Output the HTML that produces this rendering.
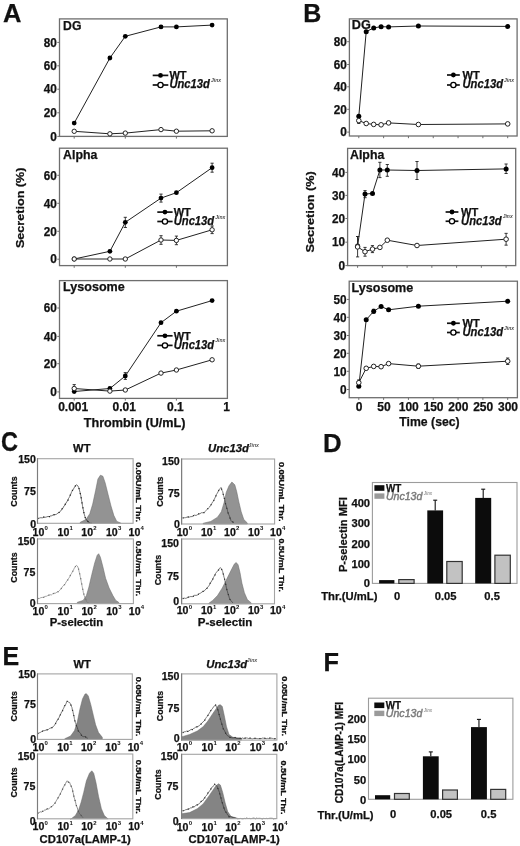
<!DOCTYPE html>
<html><head><meta charset="utf-8"><style>
html,body{margin:0;padding:0;background:#fff;}
svg{display:block;will-change:transform;}
text{font-family:"Liberation Sans",sans-serif;}
</style></head><body>
<svg xmlns="http://www.w3.org/2000/svg" width="520" height="846" viewBox="0 0 520 846">
<rect width="520" height="846" fill="#fff"/>
<text x="3.0" y="21.9" font-size="25.5" font-weight="bold" fill="#111" stroke="#111" stroke-width="0.25">A</text>
<rect x="59.5" y="18.9" width="167.8" height="117.5" fill="none" stroke="#6e6e6e" stroke-width="1.3"/>
<line x1="74.2" y1="136.4" x2="74.2" y2="138.6" stroke="#6e6e6e" stroke-width="1"/>
<line x1="125.30000000000001" y1="136.4" x2="125.30000000000001" y2="138.6" stroke="#6e6e6e" stroke-width="1"/>
<line x1="176.4" y1="136.4" x2="176.4" y2="138.6" stroke="#6e6e6e" stroke-width="1"/>
<text x="56.9" y="140.6" font-size="12" font-weight="bold" text-anchor="end" textLength="6.6" lengthAdjust="spacingAndGlyphs" fill="#111" stroke="#111" stroke-width="0.25">0</text>
<line x1="57.3" y1="136.4" x2="59.5" y2="136.4" stroke="#6e6e6e" stroke-width="1"/>
<text x="56.9" y="117.0" font-size="12" font-weight="bold" text-anchor="end" textLength="13.1" lengthAdjust="spacingAndGlyphs" fill="#111" stroke="#111" stroke-width="0.25">20</text>
<line x1="57.3" y1="112.8" x2="59.5" y2="112.8" stroke="#6e6e6e" stroke-width="1"/>
<text x="56.9" y="93.4" font-size="12" font-weight="bold" text-anchor="end" textLength="13.1" lengthAdjust="spacingAndGlyphs" fill="#111" stroke="#111" stroke-width="0.25">40</text>
<line x1="57.3" y1="89.2" x2="59.5" y2="89.2" stroke="#6e6e6e" stroke-width="1"/>
<text x="56.9" y="70.0" font-size="12" font-weight="bold" text-anchor="end" textLength="13.1" lengthAdjust="spacingAndGlyphs" fill="#111" stroke="#111" stroke-width="0.25">60</text>
<line x1="57.3" y1="65.8" x2="59.5" y2="65.8" stroke="#6e6e6e" stroke-width="1"/>
<text x="56.9" y="46.6" font-size="12" font-weight="bold" text-anchor="end" textLength="13.1" lengthAdjust="spacingAndGlyphs" fill="#111" stroke="#111" stroke-width="0.25">80</text>
<line x1="57.3" y1="42.4" x2="59.5" y2="42.4" stroke="#6e6e6e" stroke-width="1"/>
<text x="63.1" y="29.5" font-size="12.4" font-weight="bold" textLength="18.3" lengthAdjust="spacingAndGlyphs" fill="#111" stroke="#111" stroke-width="0.25">DG</text>
<polyline points="74.2,123.1 109.9,58.0 125.3,36.3 161.0,26.9 176.4,26.9 212.1,25.1" fill="none" stroke="#222" stroke-width="1"/>
<circle cx="74.2" cy="123.1" r="2.4" fill="#000"/>
<circle cx="109.9" cy="58.0" r="2.4" fill="#000"/>
<circle cx="125.3" cy="36.3" r="2.4" fill="#000"/>
<circle cx="161.0" cy="26.9" r="2.4" fill="#000"/>
<circle cx="176.4" cy="26.9" r="2.4" fill="#000"/>
<circle cx="212.1" cy="25.1" r="2.4" fill="#000"/>
<polyline points="74.2,131.3 109.9,133.8 125.3,133.1 161.0,129.6 176.4,131.2 212.1,130.8" fill="none" stroke="#222" stroke-width="1"/>
<circle cx="74.2" cy="131.3" r="2.1999999999999997" fill="#fff" stroke="#222" stroke-width="1"/>
<circle cx="109.9" cy="133.8" r="2.1999999999999997" fill="#fff" stroke="#222" stroke-width="1"/>
<circle cx="125.3" cy="133.1" r="2.1999999999999997" fill="#fff" stroke="#222" stroke-width="1"/>
<circle cx="161.0" cy="129.6" r="2.1999999999999997" fill="#fff" stroke="#222" stroke-width="1"/>
<circle cx="176.4" cy="131.2" r="2.1999999999999997" fill="#fff" stroke="#222" stroke-width="1"/>
<circle cx="212.1" cy="130.8" r="2.1999999999999997" fill="#fff" stroke="#222" stroke-width="1"/>
<line x1="152.7" y1="75.4" x2="168.3" y2="75.4" stroke="#111" stroke-width="1.7"/>
<circle cx="160.5" cy="75.4" r="2.4" fill="#000"/>
<text x="169.4" y="79.10000000000001" font-size="11.0" font-weight="bold" textLength="17.2" lengthAdjust="spacingAndGlyphs" fill="#111" stroke="#111" stroke-width="0.25">WT</text>
<line x1="152.7" y1="85.0" x2="168.3" y2="85.0" stroke="#111" stroke-width="1.7"/>
<circle cx="160.5" cy="85.0" r="2.6" fill="#fff" stroke="#000" stroke-width="1.3"/>
<text x="169.4" y="88.4" font-size="12.2" font-weight="bold" font-style="italic" textLength="40.5" lengthAdjust="spacingAndGlyphs" fill="#111" stroke="#111" stroke-width="0.25">Unc13d</text>
<text x="211.0" y="82.0" font-size="5.8" font-weight="bold" font-style="italic" textLength="10" lengthAdjust="spacingAndGlyphs" fill="#4a4a4a">Jinx</text>
<rect x="59.5" y="148.2" width="167.9" height="117.40000000000003" fill="none" stroke="#6e6e6e" stroke-width="1.3"/>
<line x1="74.2" y1="265.6" x2="74.2" y2="267.8" stroke="#6e6e6e" stroke-width="1"/>
<line x1="125.30000000000001" y1="265.6" x2="125.30000000000001" y2="267.8" stroke="#6e6e6e" stroke-width="1"/>
<line x1="176.4" y1="265.6" x2="176.4" y2="267.8" stroke="#6e6e6e" stroke-width="1"/>
<text x="56.9" y="263.4" font-size="12" font-weight="bold" text-anchor="end" textLength="6.6" lengthAdjust="spacingAndGlyphs" fill="#111" stroke="#111" stroke-width="0.25">0</text>
<line x1="57.3" y1="259.2" x2="59.5" y2="259.2" stroke="#6e6e6e" stroke-width="1"/>
<text x="56.9" y="235.5" font-size="12" font-weight="bold" text-anchor="end" textLength="13.1" lengthAdjust="spacingAndGlyphs" fill="#111" stroke="#111" stroke-width="0.25">20</text>
<line x1="57.3" y1="231.3" x2="59.5" y2="231.3" stroke="#6e6e6e" stroke-width="1"/>
<text x="56.9" y="207.5" font-size="12" font-weight="bold" text-anchor="end" textLength="13.1" lengthAdjust="spacingAndGlyphs" fill="#111" stroke="#111" stroke-width="0.25">40</text>
<line x1="57.3" y1="203.3" x2="59.5" y2="203.3" stroke="#6e6e6e" stroke-width="1"/>
<text x="56.9" y="179.5" font-size="12" font-weight="bold" text-anchor="end" textLength="13.1" lengthAdjust="spacingAndGlyphs" fill="#111" stroke="#111" stroke-width="0.25">60</text>
<line x1="57.3" y1="175.3" x2="59.5" y2="175.3" stroke="#6e6e6e" stroke-width="1"/>
<text x="63.1" y="158.79999999999998" font-size="12.4" font-weight="bold" textLength="34.3" lengthAdjust="spacingAndGlyphs" fill="#111" stroke="#111" stroke-width="0.25">Alpha</text>
<polyline points="74.2,259.0 109.9,251.3 125.3,222.3 161.0,198.1 176.4,192.7 212.1,167.7" fill="none" stroke="#222" stroke-width="1"/>
<line x1="125.30000000000001" y1="217.3" x2="125.30000000000001" y2="227.5" stroke="#222" stroke-width="0.9"/>
<line x1="123.70000000000002" y1="217.3" x2="126.9" y2="217.3" stroke="#222" stroke-width="0.9"/>
<line x1="123.70000000000002" y1="227.5" x2="126.9" y2="227.5" stroke="#222" stroke-width="0.9"/>
<line x1="161.01736722157057" y1="194.1" x2="161.01736722157057" y2="202.1" stroke="#222" stroke-width="0.9"/>
<line x1="159.41736722157057" y1="194.1" x2="162.61736722157056" y2="194.1" stroke="#222" stroke-width="0.9"/>
<line x1="159.41736722157057" y1="202.1" x2="162.61736722157056" y2="202.1" stroke="#222" stroke-width="0.9"/>
<line x1="212.1173672215706" y1="163.2" x2="212.1173672215706" y2="172.2" stroke="#222" stroke-width="0.9"/>
<line x1="210.5173672215706" y1="163.2" x2="213.71736722157058" y2="163.2" stroke="#222" stroke-width="0.9"/>
<line x1="210.5173672215706" y1="172.2" x2="213.71736722157058" y2="172.2" stroke="#222" stroke-width="0.9"/>
<circle cx="74.2" cy="259.0" r="2.4" fill="#000"/>
<circle cx="109.9" cy="251.3" r="2.4" fill="#000"/>
<circle cx="125.3" cy="222.3" r="2.4" fill="#000"/>
<circle cx="161.0" cy="198.1" r="2.4" fill="#000"/>
<circle cx="176.4" cy="192.7" r="2.4" fill="#000"/>
<circle cx="212.1" cy="167.7" r="2.4" fill="#000"/>
<polyline points="74.2,259.0 109.9,259.0 125.3,259.0 161.0,240.0 176.4,240.4 212.1,229.8" fill="none" stroke="#222" stroke-width="1"/>
<line x1="161.01736722157057" y1="235.7" x2="161.01736722157057" y2="244.3" stroke="#222" stroke-width="0.9"/>
<line x1="159.41736722157057" y1="235.7" x2="162.61736722157056" y2="235.7" stroke="#222" stroke-width="0.9"/>
<line x1="159.41736722157057" y1="244.3" x2="162.61736722157056" y2="244.3" stroke="#222" stroke-width="0.9"/>
<line x1="176.4" y1="236.1" x2="176.4" y2="244.70000000000002" stroke="#222" stroke-width="0.9"/>
<line x1="174.8" y1="236.1" x2="178.0" y2="236.1" stroke="#222" stroke-width="0.9"/>
<line x1="174.8" y1="244.70000000000002" x2="178.0" y2="244.70000000000002" stroke="#222" stroke-width="0.9"/>
<line x1="212.1173672215706" y1="226.0" x2="212.1173672215706" y2="233.60000000000002" stroke="#222" stroke-width="0.9"/>
<line x1="210.5173672215706" y1="226.0" x2="213.71736722157058" y2="226.0" stroke="#222" stroke-width="0.9"/>
<line x1="210.5173672215706" y1="233.60000000000002" x2="213.71736722157058" y2="233.60000000000002" stroke="#222" stroke-width="0.9"/>
<circle cx="74.2" cy="259.0" r="2.1999999999999997" fill="#fff" stroke="#222" stroke-width="1"/>
<circle cx="109.9" cy="259.0" r="2.1999999999999997" fill="#fff" stroke="#222" stroke-width="1"/>
<circle cx="125.3" cy="259.0" r="2.1999999999999997" fill="#fff" stroke="#222" stroke-width="1"/>
<circle cx="161.0" cy="240.0" r="2.1999999999999997" fill="#fff" stroke="#222" stroke-width="1"/>
<circle cx="176.4" cy="240.4" r="2.1999999999999997" fill="#fff" stroke="#222" stroke-width="1"/>
<circle cx="212.1" cy="229.8" r="2.1999999999999997" fill="#fff" stroke="#222" stroke-width="1"/>
<line x1="157.3" y1="212.1" x2="172.60000000000002" y2="212.1" stroke="#111" stroke-width="1.7"/>
<circle cx="164.95000000000002" cy="212.1" r="2.4" fill="#000"/>
<text x="173.7" y="215.79999999999998" font-size="11.0" font-weight="bold" textLength="17.2" lengthAdjust="spacingAndGlyphs" fill="#111" stroke="#111" stroke-width="0.25">WT</text>
<line x1="157.3" y1="221.5" x2="172.60000000000002" y2="221.5" stroke="#111" stroke-width="1.7"/>
<circle cx="164.95000000000002" cy="221.5" r="2.6" fill="#fff" stroke="#000" stroke-width="1.3"/>
<text x="173.7" y="224.9" font-size="12.2" font-weight="bold" font-style="italic" textLength="40.5" lengthAdjust="spacingAndGlyphs" fill="#111" stroke="#111" stroke-width="0.25">Unc13d</text>
<text x="215.29999999999998" y="218.5" font-size="5.8" font-weight="bold" font-style="italic" textLength="10" lengthAdjust="spacingAndGlyphs" fill="#4a4a4a">Jinx</text>
<rect x="59.5" y="280.6" width="167.9" height="117.79999999999995" fill="none" stroke="#6e6e6e" stroke-width="1.3"/>
<line x1="74.2" y1="398.4" x2="74.2" y2="400.59999999999997" stroke="#6e6e6e" stroke-width="1"/>
<line x1="125.30000000000001" y1="398.4" x2="125.30000000000001" y2="400.59999999999997" stroke="#6e6e6e" stroke-width="1"/>
<line x1="176.4" y1="398.4" x2="176.4" y2="400.59999999999997" stroke="#6e6e6e" stroke-width="1"/>
<text x="56.9" y="396.09999999999997" font-size="12" font-weight="bold" text-anchor="end" textLength="6.6" lengthAdjust="spacingAndGlyphs" fill="#111" stroke="#111" stroke-width="0.25">0</text>
<line x1="57.3" y1="391.9" x2="59.5" y2="391.9" stroke="#6e6e6e" stroke-width="1"/>
<text x="56.9" y="367.9" font-size="12" font-weight="bold" text-anchor="end" textLength="13.1" lengthAdjust="spacingAndGlyphs" fill="#111" stroke="#111" stroke-width="0.25">20</text>
<line x1="57.3" y1="363.7" x2="59.5" y2="363.7" stroke="#6e6e6e" stroke-width="1"/>
<text x="56.9" y="340.59999999999997" font-size="12" font-weight="bold" text-anchor="end" textLength="13.1" lengthAdjust="spacingAndGlyphs" fill="#111" stroke="#111" stroke-width="0.25">40</text>
<line x1="57.3" y1="336.4" x2="59.5" y2="336.4" stroke="#6e6e6e" stroke-width="1"/>
<text x="56.9" y="312.2" font-size="12" font-weight="bold" text-anchor="end" textLength="13.1" lengthAdjust="spacingAndGlyphs" fill="#111" stroke="#111" stroke-width="0.25">60</text>
<line x1="57.3" y1="308" x2="59.5" y2="308" stroke="#6e6e6e" stroke-width="1"/>
<text x="63.1" y="291.20000000000005" font-size="12.4" font-weight="bold" textLength="61.6" lengthAdjust="spacingAndGlyphs" fill="#111" stroke="#111" stroke-width="0.25">Lysosome</text>
<polyline points="74.2,391.5 109.9,388.5 125.3,376.0 161.0,322.7 176.4,311.2 212.1,300.6" fill="none" stroke="#222" stroke-width="1"/>
<line x1="125.30000000000001" y1="372.6" x2="125.30000000000001" y2="379.4" stroke="#222" stroke-width="0.9"/>
<line x1="123.70000000000002" y1="372.6" x2="126.9" y2="372.6" stroke="#222" stroke-width="0.9"/>
<line x1="123.70000000000002" y1="379.4" x2="126.9" y2="379.4" stroke="#222" stroke-width="0.9"/>
<circle cx="74.2" cy="391.5" r="2.4" fill="#000"/>
<circle cx="109.9" cy="388.5" r="2.4" fill="#000"/>
<circle cx="125.3" cy="376.0" r="2.4" fill="#000"/>
<circle cx="161.0" cy="322.7" r="2.4" fill="#000"/>
<circle cx="176.4" cy="311.2" r="2.4" fill="#000"/>
<circle cx="212.1" cy="300.6" r="2.4" fill="#000"/>
<polyline points="74.2,388.5 109.9,391.1 125.3,390.0 161.0,373.1 176.4,370.0 212.1,359.8" fill="none" stroke="#222" stroke-width="1"/>
<line x1="74.2" y1="384.6" x2="74.2" y2="390" stroke="#222" stroke-width="0.9"/>
<line x1="72.60000000000001" y1="384.6" x2="75.8" y2="384.6" stroke="#222" stroke-width="0.9"/>
<line x1="72.60000000000001" y1="390" x2="75.8" y2="390" stroke="#222" stroke-width="0.9"/>
<circle cx="74.2" cy="388.5" r="2.1999999999999997" fill="#fff" stroke="#222" stroke-width="1"/>
<circle cx="109.9" cy="391.1" r="2.1999999999999997" fill="#fff" stroke="#222" stroke-width="1"/>
<circle cx="125.3" cy="390.0" r="2.1999999999999997" fill="#fff" stroke="#222" stroke-width="1"/>
<circle cx="161.0" cy="373.1" r="2.1999999999999997" fill="#fff" stroke="#222" stroke-width="1"/>
<circle cx="176.4" cy="370.0" r="2.1999999999999997" fill="#fff" stroke="#222" stroke-width="1"/>
<circle cx="212.1" cy="359.8" r="2.1999999999999997" fill="#fff" stroke="#222" stroke-width="1"/>
<line x1="157.3" y1="335.8" x2="172.60000000000002" y2="335.8" stroke="#111" stroke-width="1.7"/>
<circle cx="164.95000000000002" cy="335.8" r="2.4" fill="#000"/>
<text x="173.7" y="339.5" font-size="11.0" font-weight="bold" textLength="17.2" lengthAdjust="spacingAndGlyphs" fill="#111" stroke="#111" stroke-width="0.25">WT</text>
<line x1="157.3" y1="345.4" x2="172.60000000000002" y2="345.4" stroke="#111" stroke-width="1.7"/>
<circle cx="164.95000000000002" cy="345.4" r="2.6" fill="#fff" stroke="#000" stroke-width="1.3"/>
<text x="173.7" y="348.79999999999995" font-size="12.2" font-weight="bold" font-style="italic" textLength="40.5" lengthAdjust="spacingAndGlyphs" fill="#111" stroke="#111" stroke-width="0.25">Unc13d</text>
<text x="215.29999999999998" y="342.4" font-size="5.8" font-weight="bold" font-style="italic" textLength="10" lengthAdjust="spacingAndGlyphs" fill="#4a4a4a">Jinx</text>
<text x="73.2" y="411.0" font-size="12" font-weight="bold" text-anchor="middle" fill="#111" stroke="#111" stroke-width="0.25">0.001</text>
<text x="124.30000000000001" y="411.0" font-size="12" font-weight="bold" text-anchor="middle" fill="#111" stroke="#111" stroke-width="0.25">0.01</text>
<text x="175.4" y="411.0" font-size="12" font-weight="bold" text-anchor="middle" fill="#111" stroke="#111" stroke-width="0.25">0.1</text>
<text x="226.5" y="411.0" font-size="12" font-weight="bold" text-anchor="middle" fill="#111" stroke="#111" stroke-width="0.25">1</text>
<text x="134.6" y="426.5" font-size="12.4" font-weight="bold" text-anchor="middle" textLength="101.6" lengthAdjust="spacingAndGlyphs" fill="#111" stroke="#111" stroke-width="0.25">Thrombin (U/mL)</text>
<text x="23.9" y="207.8" font-size="11.6" font-weight="bold" text-anchor="middle" textLength="80.5" lengthAdjust="spacingAndGlyphs" transform="rotate(-90 23.9 207.8)" fill="#111" stroke="#111" stroke-width="0.25">Secretion (%)</text>
<text x="303.3" y="22" font-size="25" font-weight="bold" fill="#111" stroke="#111" stroke-width="0.25">B</text>
<rect x="349.4" y="18.9" width="167.70000000000005" height="117.1" fill="none" stroke="#6e6e6e" stroke-width="1.3"/>
<line x1="358.8" y1="136.0" x2="358.8" y2="138.2" stroke="#6e6e6e" stroke-width="1"/>
<line x1="383.615" y1="136.0" x2="383.615" y2="138.2" stroke="#6e6e6e" stroke-width="1"/>
<line x1="408.43" y1="136.0" x2="408.43" y2="138.2" stroke="#6e6e6e" stroke-width="1"/>
<line x1="433.245" y1="136.0" x2="433.245" y2="138.2" stroke="#6e6e6e" stroke-width="1"/>
<line x1="458.06" y1="136.0" x2="458.06" y2="138.2" stroke="#6e6e6e" stroke-width="1"/>
<line x1="482.875" y1="136.0" x2="482.875" y2="138.2" stroke="#6e6e6e" stroke-width="1"/>
<line x1="507.69000000000005" y1="136.0" x2="507.69000000000005" y2="138.2" stroke="#6e6e6e" stroke-width="1"/>
<text x="346.79999999999995" y="136.29999999999998" font-size="12" font-weight="bold" text-anchor="end" textLength="6.6" lengthAdjust="spacingAndGlyphs" fill="#111" stroke="#111" stroke-width="0.25">0</text>
<line x1="347.2" y1="132.1" x2="349.4" y2="132.1" stroke="#6e6e6e" stroke-width="1"/>
<text x="346.79999999999995" y="113.5" font-size="12" font-weight="bold" text-anchor="end" textLength="13.1" lengthAdjust="spacingAndGlyphs" fill="#111" stroke="#111" stroke-width="0.25">20</text>
<line x1="347.2" y1="109.3" x2="349.4" y2="109.3" stroke="#6e6e6e" stroke-width="1"/>
<text x="346.79999999999995" y="91.0" font-size="12" font-weight="bold" text-anchor="end" textLength="13.1" lengthAdjust="spacingAndGlyphs" fill="#111" stroke="#111" stroke-width="0.25">40</text>
<line x1="347.2" y1="86.8" x2="349.4" y2="86.8" stroke="#6e6e6e" stroke-width="1"/>
<text x="346.79999999999995" y="68.7" font-size="12" font-weight="bold" text-anchor="end" textLength="13.1" lengthAdjust="spacingAndGlyphs" fill="#111" stroke="#111" stroke-width="0.25">60</text>
<line x1="347.2" y1="64.5" x2="349.4" y2="64.5" stroke="#6e6e6e" stroke-width="1"/>
<text x="346.79999999999995" y="45.900000000000006" font-size="12" font-weight="bold" text-anchor="end" textLength="13.1" lengthAdjust="spacingAndGlyphs" fill="#111" stroke="#111" stroke-width="0.25">80</text>
<line x1="347.2" y1="41.7" x2="349.4" y2="41.7" stroke="#6e6e6e" stroke-width="1"/>
<text x="351.79999999999995" y="29.2" font-size="12.4" font-weight="bold" textLength="19.0" lengthAdjust="spacingAndGlyphs" fill="#111" stroke="#111" stroke-width="0.25">DG</text>
<polyline points="358.8,116.3 366.2,31.7 373.7,27.9 381.1,26.7 388.6,26.9 418.4,26.0 507.7,26.4" fill="none" stroke="#222" stroke-width="1"/>
<circle cx="358.8" cy="116.3" r="2.5" fill="#000"/>
<circle cx="366.2" cy="31.7" r="2.5" fill="#000"/>
<circle cx="373.7" cy="27.9" r="2.5" fill="#000"/>
<circle cx="381.1" cy="26.7" r="2.5" fill="#000"/>
<circle cx="388.6" cy="26.9" r="2.5" fill="#000"/>
<circle cx="418.4" cy="26.0" r="2.5" fill="#000"/>
<circle cx="507.7" cy="26.4" r="2.5" fill="#000"/>
<polyline points="358.8,120.6 366.2,123.5 373.7,124.4 381.1,124.8 388.6,122.9 418.4,124.5 507.7,123.9" fill="none" stroke="#222" stroke-width="1"/>
<line x1="358.8" y1="120.6" x2="358.8" y2="123.5" stroke="#222" stroke-width="0.9"/>
<line x1="357.2" y1="120.6" x2="360.40000000000003" y2="120.6" stroke="#222" stroke-width="0.9"/>
<line x1="357.2" y1="123.5" x2="360.40000000000003" y2="123.5" stroke="#222" stroke-width="0.9"/>
<circle cx="358.8" cy="120.6" r="2.3" fill="#fff" stroke="#222" stroke-width="1"/>
<circle cx="366.2" cy="123.5" r="2.3" fill="#fff" stroke="#222" stroke-width="1"/>
<circle cx="373.7" cy="124.4" r="2.3" fill="#fff" stroke="#222" stroke-width="1"/>
<circle cx="381.1" cy="124.8" r="2.3" fill="#fff" stroke="#222" stroke-width="1"/>
<circle cx="388.6" cy="122.9" r="2.3" fill="#fff" stroke="#222" stroke-width="1"/>
<circle cx="418.4" cy="124.5" r="2.3" fill="#fff" stroke="#222" stroke-width="1"/>
<circle cx="507.7" cy="123.9" r="2.3" fill="#fff" stroke="#222" stroke-width="1"/>
<line x1="447" y1="75" x2="459.8" y2="75" stroke="#111" stroke-width="1.7"/>
<circle cx="453.4" cy="75" r="2.4" fill="#000"/>
<text x="462.5" y="78.7" font-size="11.0" font-weight="bold" textLength="17.2" lengthAdjust="spacingAndGlyphs" fill="#111" stroke="#111" stroke-width="0.25">WT</text>
<line x1="447" y1="85" x2="459.8" y2="85" stroke="#111" stroke-width="1.7"/>
<circle cx="453.4" cy="85" r="2.6" fill="#fff" stroke="#000" stroke-width="1.3"/>
<text x="462.5" y="88.4" font-size="12.2" font-weight="bold" font-style="italic" textLength="40.5" lengthAdjust="spacingAndGlyphs" fill="#111" stroke="#111" stroke-width="0.25">Unc13d</text>
<text x="504.1" y="82.0" font-size="5.8" font-weight="bold" font-style="italic" textLength="10" lengthAdjust="spacingAndGlyphs" fill="#4a4a4a">Jinx</text>
<rect x="347.6" y="148.4" width="168.10000000000002" height="117.20000000000002" fill="none" stroke="#6e6e6e" stroke-width="1.3"/>
<line x1="357.6" y1="265.6" x2="357.6" y2="267.8" stroke="#6e6e6e" stroke-width="1"/>
<line x1="382.35" y1="265.6" x2="382.35" y2="267.8" stroke="#6e6e6e" stroke-width="1"/>
<line x1="407.1" y1="265.6" x2="407.1" y2="267.8" stroke="#6e6e6e" stroke-width="1"/>
<line x1="431.85" y1="265.6" x2="431.85" y2="267.8" stroke="#6e6e6e" stroke-width="1"/>
<line x1="456.6" y1="265.6" x2="456.6" y2="267.8" stroke="#6e6e6e" stroke-width="1"/>
<line x1="481.35" y1="265.6" x2="481.35" y2="267.8" stroke="#6e6e6e" stroke-width="1"/>
<line x1="506.1" y1="265.6" x2="506.1" y2="267.8" stroke="#6e6e6e" stroke-width="1"/>
<text x="345.0" y="269.8" font-size="12" font-weight="bold" text-anchor="end" textLength="6.6" lengthAdjust="spacingAndGlyphs" fill="#111" stroke="#111" stroke-width="0.25">0</text>
<line x1="345.40000000000003" y1="265.6" x2="347.6" y2="265.6" stroke="#6e6e6e" stroke-width="1"/>
<text x="345.0" y="246.39999999999998" font-size="12" font-weight="bold" text-anchor="end" textLength="13.1" lengthAdjust="spacingAndGlyphs" fill="#111" stroke="#111" stroke-width="0.25">10</text>
<line x1="345.40000000000003" y1="242.2" x2="347.6" y2="242.2" stroke="#6e6e6e" stroke-width="1"/>
<text x="345.0" y="222.7" font-size="12" font-weight="bold" text-anchor="end" textLength="13.1" lengthAdjust="spacingAndGlyphs" fill="#111" stroke="#111" stroke-width="0.25">20</text>
<line x1="345.40000000000003" y1="218.5" x2="347.6" y2="218.5" stroke="#6e6e6e" stroke-width="1"/>
<text x="345.0" y="199.6" font-size="12" font-weight="bold" text-anchor="end" textLength="13.1" lengthAdjust="spacingAndGlyphs" fill="#111" stroke="#111" stroke-width="0.25">30</text>
<line x1="345.40000000000003" y1="195.4" x2="347.6" y2="195.4" stroke="#6e6e6e" stroke-width="1"/>
<text x="345.0" y="176.6" font-size="12" font-weight="bold" text-anchor="end" textLength="13.1" lengthAdjust="spacingAndGlyphs" fill="#111" stroke="#111" stroke-width="0.25">40</text>
<line x1="345.40000000000003" y1="172.4" x2="347.6" y2="172.4" stroke="#6e6e6e" stroke-width="1"/>
<text x="350.0" y="158.70000000000002" font-size="12.4" font-weight="bold" textLength="34.3" lengthAdjust="spacingAndGlyphs" fill="#111" stroke="#111" stroke-width="0.25">Alpha</text>
<polyline points="357.6,246.0 365.0,194.1 372.5,193.4 379.9,170.0 387.3,170.0 417.0,170.5 506.1,168.9" fill="none" stroke="#222" stroke-width="1"/>
<line x1="357.6" y1="236.5" x2="357.6" y2="246" stroke="#222" stroke-width="0.9"/>
<line x1="356.0" y1="236.5" x2="359.20000000000005" y2="236.5" stroke="#222" stroke-width="0.9"/>
<line x1="356.0" y1="246" x2="359.20000000000005" y2="246" stroke="#222" stroke-width="0.9"/>
<line x1="365.02500000000003" y1="190.6" x2="365.02500000000003" y2="197.7" stroke="#222" stroke-width="0.9"/>
<line x1="363.425" y1="190.6" x2="366.62500000000006" y2="190.6" stroke="#222" stroke-width="0.9"/>
<line x1="363.425" y1="197.7" x2="366.62500000000006" y2="197.7" stroke="#222" stroke-width="0.9"/>
<line x1="379.875" y1="162.3" x2="379.875" y2="177.6" stroke="#222" stroke-width="0.9"/>
<line x1="378.275" y1="162.3" x2="381.475" y2="162.3" stroke="#222" stroke-width="0.9"/>
<line x1="378.275" y1="177.6" x2="381.475" y2="177.6" stroke="#222" stroke-width="0.9"/>
<line x1="387.3" y1="164.5" x2="387.3" y2="176.3" stroke="#222" stroke-width="0.9"/>
<line x1="385.7" y1="164.5" x2="388.90000000000003" y2="164.5" stroke="#222" stroke-width="0.9"/>
<line x1="385.7" y1="176.3" x2="388.90000000000003" y2="176.3" stroke="#222" stroke-width="0.9"/>
<line x1="417.0" y1="161.5" x2="417.0" y2="179.5" stroke="#222" stroke-width="0.9"/>
<line x1="415.4" y1="161.5" x2="418.6" y2="161.5" stroke="#222" stroke-width="0.9"/>
<line x1="415.4" y1="179.5" x2="418.6" y2="179.5" stroke="#222" stroke-width="0.9"/>
<line x1="506.1" y1="164" x2="506.1" y2="173.5" stroke="#222" stroke-width="0.9"/>
<line x1="504.5" y1="164" x2="507.70000000000005" y2="164" stroke="#222" stroke-width="0.9"/>
<line x1="504.5" y1="173.5" x2="507.70000000000005" y2="173.5" stroke="#222" stroke-width="0.9"/>
<circle cx="357.6" cy="246.0" r="2.5" fill="#000"/>
<circle cx="365.0" cy="194.1" r="2.5" fill="#000"/>
<circle cx="372.5" cy="193.4" r="2.5" fill="#000"/>
<circle cx="379.9" cy="170.0" r="2.5" fill="#000"/>
<circle cx="387.3" cy="170.0" r="2.5" fill="#000"/>
<circle cx="417.0" cy="170.5" r="2.5" fill="#000"/>
<circle cx="506.1" cy="168.9" r="2.5" fill="#000"/>
<polyline points="357.6,246.9 365.0,251.7 372.5,249.1 379.9,247.4 387.3,240.2 417.0,245.5 506.1,239.2" fill="none" stroke="#222" stroke-width="1"/>
<line x1="357.6" y1="236.5" x2="357.6" y2="256.9" stroke="#222" stroke-width="0.9"/>
<line x1="356.0" y1="236.5" x2="359.20000000000005" y2="236.5" stroke="#222" stroke-width="0.9"/>
<line x1="356.0" y1="256.9" x2="359.20000000000005" y2="256.9" stroke="#222" stroke-width="0.9"/>
<line x1="365.02500000000003" y1="247.4" x2="365.02500000000003" y2="256.2" stroke="#222" stroke-width="0.9"/>
<line x1="363.425" y1="247.4" x2="366.62500000000006" y2="247.4" stroke="#222" stroke-width="0.9"/>
<line x1="363.425" y1="256.2" x2="366.62500000000006" y2="256.2" stroke="#222" stroke-width="0.9"/>
<line x1="372.45000000000005" y1="245.6" x2="372.45000000000005" y2="252.6" stroke="#222" stroke-width="0.9"/>
<line x1="370.85" y1="245.6" x2="374.05000000000007" y2="245.6" stroke="#222" stroke-width="0.9"/>
<line x1="370.85" y1="252.6" x2="374.05000000000007" y2="252.6" stroke="#222" stroke-width="0.9"/>
<line x1="506.1" y1="233.35" x2="506.1" y2="245.15" stroke="#222" stroke-width="0.9"/>
<line x1="504.5" y1="233.35" x2="507.70000000000005" y2="233.35" stroke="#222" stroke-width="0.9"/>
<line x1="504.5" y1="245.15" x2="507.70000000000005" y2="245.15" stroke="#222" stroke-width="0.9"/>
<circle cx="357.6" cy="246.9" r="2.3" fill="#fff" stroke="#222" stroke-width="1"/>
<circle cx="365.0" cy="251.7" r="2.3" fill="#fff" stroke="#222" stroke-width="1"/>
<circle cx="372.5" cy="249.1" r="2.3" fill="#fff" stroke="#222" stroke-width="1"/>
<circle cx="379.9" cy="247.4" r="2.3" fill="#fff" stroke="#222" stroke-width="1"/>
<circle cx="387.3" cy="240.2" r="2.3" fill="#fff" stroke="#222" stroke-width="1"/>
<circle cx="417.0" cy="245.5" r="2.3" fill="#fff" stroke="#222" stroke-width="1"/>
<circle cx="506.1" cy="239.2" r="2.3" fill="#fff" stroke="#222" stroke-width="1"/>
<line x1="445.6" y1="212" x2="458.40000000000003" y2="212" stroke="#111" stroke-width="1.7"/>
<circle cx="452.0" cy="212" r="2.4" fill="#000"/>
<text x="461.1" y="215.7" font-size="11.0" font-weight="bold" textLength="17.2" lengthAdjust="spacingAndGlyphs" fill="#111" stroke="#111" stroke-width="0.25">WT</text>
<line x1="445.6" y1="221.25" x2="458.40000000000003" y2="221.25" stroke="#111" stroke-width="1.7"/>
<circle cx="452.0" cy="221.25" r="2.6" fill="#fff" stroke="#000" stroke-width="1.3"/>
<text x="461.1" y="224.65" font-size="12.2" font-weight="bold" font-style="italic" textLength="40.5" lengthAdjust="spacingAndGlyphs" fill="#111" stroke="#111" stroke-width="0.25">Unc13d</text>
<text x="502.70000000000005" y="218.25" font-size="5.8" font-weight="bold" font-style="italic" textLength="10" lengthAdjust="spacingAndGlyphs" fill="#4a4a4a">Jinx</text>
<rect x="349.2" y="281.2" width="168.2" height="116.5" fill="none" stroke="#6e6e6e" stroke-width="1.3"/>
<line x1="358.8" y1="397.7" x2="358.8" y2="399.9" stroke="#6e6e6e" stroke-width="1"/>
<line x1="383.615" y1="397.7" x2="383.615" y2="399.9" stroke="#6e6e6e" stroke-width="1"/>
<line x1="408.43" y1="397.7" x2="408.43" y2="399.9" stroke="#6e6e6e" stroke-width="1"/>
<line x1="433.245" y1="397.7" x2="433.245" y2="399.9" stroke="#6e6e6e" stroke-width="1"/>
<line x1="458.06" y1="397.7" x2="458.06" y2="399.9" stroke="#6e6e6e" stroke-width="1"/>
<line x1="482.875" y1="397.7" x2="482.875" y2="399.9" stroke="#6e6e6e" stroke-width="1"/>
<line x1="507.69000000000005" y1="397.7" x2="507.69000000000005" y2="399.9" stroke="#6e6e6e" stroke-width="1"/>
<text x="346.59999999999997" y="393.7" font-size="12" font-weight="bold" text-anchor="end" textLength="6.6" lengthAdjust="spacingAndGlyphs" fill="#111" stroke="#111" stroke-width="0.25">0</text>
<line x1="347.0" y1="389.5" x2="349.2" y2="389.5" stroke="#6e6e6e" stroke-width="1"/>
<text x="346.59999999999997" y="375.5" font-size="12" font-weight="bold" text-anchor="end" textLength="13.1" lengthAdjust="spacingAndGlyphs" fill="#111" stroke="#111" stroke-width="0.25">10</text>
<line x1="347.0" y1="371.3" x2="349.2" y2="371.3" stroke="#6e6e6e" stroke-width="1"/>
<text x="346.59999999999997" y="357.5" font-size="12" font-weight="bold" text-anchor="end" textLength="13.1" lengthAdjust="spacingAndGlyphs" fill="#111" stroke="#111" stroke-width="0.25">20</text>
<line x1="347.0" y1="353.3" x2="349.2" y2="353.3" stroke="#6e6e6e" stroke-width="1"/>
<text x="346.59999999999997" y="339.7" font-size="12" font-weight="bold" text-anchor="end" textLength="13.1" lengthAdjust="spacingAndGlyphs" fill="#111" stroke="#111" stroke-width="0.25">30</text>
<line x1="347.0" y1="335.5" x2="349.2" y2="335.5" stroke="#6e6e6e" stroke-width="1"/>
<text x="346.59999999999997" y="321.5" font-size="12" font-weight="bold" text-anchor="end" textLength="13.1" lengthAdjust="spacingAndGlyphs" fill="#111" stroke="#111" stroke-width="0.25">40</text>
<line x1="347.0" y1="317.3" x2="349.2" y2="317.3" stroke="#6e6e6e" stroke-width="1"/>
<text x="346.59999999999997" y="303.59999999999997" font-size="12" font-weight="bold" text-anchor="end" textLength="13.1" lengthAdjust="spacingAndGlyphs" fill="#111" stroke="#111" stroke-width="0.25">50</text>
<line x1="347.0" y1="299.4" x2="349.2" y2="299.4" stroke="#6e6e6e" stroke-width="1"/>
<text x="351.59999999999997" y="291.5" font-size="12.4" font-weight="bold" textLength="61.6" lengthAdjust="spacingAndGlyphs" fill="#111" stroke="#111" stroke-width="0.25">Lysosome</text>
<polyline points="358.8,386.3 366.2,319.8 373.7,311.3 381.1,306.5 388.6,309.8 418.4,306.2 507.7,301.2" fill="none" stroke="#222" stroke-width="1"/>
<line x1="373.689" y1="309.3" x2="373.689" y2="313.3" stroke="#222" stroke-width="0.9"/>
<line x1="372.089" y1="309.3" x2="375.28900000000004" y2="309.3" stroke="#222" stroke-width="0.9"/>
<line x1="372.089" y1="313.3" x2="375.28900000000004" y2="313.3" stroke="#222" stroke-width="0.9"/>
<circle cx="358.8" cy="386.3" r="2.5" fill="#000"/>
<circle cx="366.2" cy="319.8" r="2.5" fill="#000"/>
<circle cx="373.7" cy="311.3" r="2.5" fill="#000"/>
<circle cx="381.1" cy="306.5" r="2.5" fill="#000"/>
<circle cx="388.6" cy="309.8" r="2.5" fill="#000"/>
<circle cx="418.4" cy="306.2" r="2.5" fill="#000"/>
<circle cx="507.7" cy="301.2" r="2.5" fill="#000"/>
<polyline points="358.8,382.7 366.2,368.3 373.7,366.4 381.1,366.7 388.6,363.6 418.4,366.2 507.7,361.2" fill="none" stroke="#222" stroke-width="1"/>
<line x1="358.8" y1="379.9" x2="358.8" y2="382.7" stroke="#222" stroke-width="0.9"/>
<line x1="357.2" y1="379.9" x2="360.40000000000003" y2="379.9" stroke="#222" stroke-width="0.9"/>
<line x1="357.2" y1="382.7" x2="360.40000000000003" y2="382.7" stroke="#222" stroke-width="0.9"/>
<line x1="366.2445" y1="367.1" x2="366.2445" y2="369.5" stroke="#222" stroke-width="0.9"/>
<line x1="364.6445" y1="367.1" x2="367.84450000000004" y2="367.1" stroke="#222" stroke-width="0.9"/>
<line x1="364.6445" y1="369.5" x2="367.84450000000004" y2="369.5" stroke="#222" stroke-width="0.9"/>
<line x1="381.1335" y1="365.5" x2="381.1335" y2="367.9" stroke="#222" stroke-width="0.9"/>
<line x1="379.5335" y1="365.5" x2="382.73350000000005" y2="365.5" stroke="#222" stroke-width="0.9"/>
<line x1="379.5335" y1="367.9" x2="382.73350000000005" y2="367.9" stroke="#222" stroke-width="0.9"/>
<line x1="418.356" y1="364.05" x2="418.356" y2="368.45" stroke="#222" stroke-width="0.9"/>
<line x1="416.756" y1="364.05" x2="419.956" y2="364.05" stroke="#222" stroke-width="0.9"/>
<line x1="416.756" y1="368.45" x2="419.956" y2="368.45" stroke="#222" stroke-width="0.9"/>
<line x1="507.69000000000005" y1="358.0" x2="507.69000000000005" y2="364.5" stroke="#222" stroke-width="0.9"/>
<line x1="506.09000000000003" y1="358.0" x2="509.2900000000001" y2="358.0" stroke="#222" stroke-width="0.9"/>
<line x1="506.09000000000003" y1="364.5" x2="509.2900000000001" y2="364.5" stroke="#222" stroke-width="0.9"/>
<circle cx="358.8" cy="382.7" r="2.3" fill="#fff" stroke="#222" stroke-width="1"/>
<circle cx="366.2" cy="368.3" r="2.3" fill="#fff" stroke="#222" stroke-width="1"/>
<circle cx="373.7" cy="366.4" r="2.3" fill="#fff" stroke="#222" stroke-width="1"/>
<circle cx="381.1" cy="366.7" r="2.3" fill="#fff" stroke="#222" stroke-width="1"/>
<circle cx="388.6" cy="363.6" r="2.3" fill="#fff" stroke="#222" stroke-width="1"/>
<circle cx="418.4" cy="366.2" r="2.3" fill="#fff" stroke="#222" stroke-width="1"/>
<circle cx="507.7" cy="361.2" r="2.3" fill="#fff" stroke="#222" stroke-width="1"/>
<line x1="447" y1="323.25" x2="459.8" y2="323.25" stroke="#111" stroke-width="1.7"/>
<circle cx="453.4" cy="323.25" r="2.4" fill="#000"/>
<text x="462.5" y="326.95" font-size="11.0" font-weight="bold" textLength="17.2" lengthAdjust="spacingAndGlyphs" fill="#111" stroke="#111" stroke-width="0.25">WT</text>
<line x1="447" y1="332.5" x2="459.8" y2="332.5" stroke="#111" stroke-width="1.7"/>
<circle cx="453.4" cy="332.5" r="2.6" fill="#fff" stroke="#000" stroke-width="1.3"/>
<text x="462.5" y="335.9" font-size="12.2" font-weight="bold" font-style="italic" textLength="40.5" lengthAdjust="spacingAndGlyphs" fill="#111" stroke="#111" stroke-width="0.25">Unc13d</text>
<text x="504.1" y="329.5" font-size="5.8" font-weight="bold" font-style="italic" textLength="10" lengthAdjust="spacingAndGlyphs" fill="#4a4a4a">Jinx</text>
<text x="359.1" y="410.8" font-size="12" font-weight="bold" text-anchor="middle" fill="#111" stroke="#111" stroke-width="0.25">0</text>
<text x="383.915" y="410.8" font-size="12" font-weight="bold" text-anchor="middle" fill="#111" stroke="#111" stroke-width="0.25">50</text>
<text x="408.73" y="410.8" font-size="12" font-weight="bold" text-anchor="middle" fill="#111" stroke="#111" stroke-width="0.25">100</text>
<text x="433.545" y="410.8" font-size="12" font-weight="bold" text-anchor="middle" fill="#111" stroke="#111" stroke-width="0.25">150</text>
<text x="458.36" y="410.8" font-size="12" font-weight="bold" text-anchor="middle" fill="#111" stroke="#111" stroke-width="0.25">200</text>
<text x="483.175" y="410.8" font-size="12" font-weight="bold" text-anchor="middle" fill="#111" stroke="#111" stroke-width="0.25">250</text>
<text x="507.99000000000007" y="410.8" font-size="12" font-weight="bold" text-anchor="middle" fill="#111" stroke="#111" stroke-width="0.25">300</text>
<text x="429.5" y="426.3" font-size="12.4" font-weight="bold" text-anchor="middle" textLength="60.3" lengthAdjust="spacingAndGlyphs" fill="#111" stroke="#111" stroke-width="0.25">Time (sec)</text>
<text x="313.6" y="211.9" font-size="11.6" font-weight="bold" text-anchor="middle" textLength="81.2" lengthAdjust="spacingAndGlyphs" transform="rotate(-90 313.6 211.9)" fill="#111" stroke="#111" stroke-width="0.25">Secretion (%)</text>
<text x="0.9" y="450.6" font-size="27" font-weight="bold" textLength="17.0" lengthAdjust="spacingAndGlyphs" fill="#111" stroke="#111" stroke-width="0.25">C</text>
<path d="M80.2,523.3 L80.2,522.3 L86,519.5 L89.8,513.7 L92.7,504.1 L95.6,490.6 L97.9,479.1 L100.4,475.2 L102.9,476.2 L105.2,482.9 L108.1,494.5 L111,506 L113.9,515.6 L116.8,521.4 L120.6,522.9 L120.6,523.3 Z" fill="#939393" stroke="#666" stroke-width="0.5"/>
<polyline points="37.90,518.50 39.35,518.09 40.80,517.69 42.25,517.89 43.70,517.12 45.15,517.31 46.60,516.93 48.05,516.43 49.50,516.61 50.64,515.80 51.78,515.78 52.92,515.07 54.06,514.71 55.20,514.63 56.50,514.33 57.80,513.03 59.10,512.45 59.86,511.85 60.62,511.18 61.38,509.89 62.14,508.77 62.90,508.33 63.68,506.35 64.46,505.94 65.24,504.29 66.02,503.02 66.80,501.86 67.38,500.87 67.96,500.16 68.54,498.43 69.12,497.63 69.70,496.53 70.26,495.13 70.82,494.12 71.38,492.53 71.94,491.36 72.50,490.34 73.22,489.56 73.95,488.13 74.68,486.83 75.40,485.88 76.80,484.76 77.75,485.82 78.70,487.46 79.02,488.60 79.33,489.40 79.65,490.92 79.97,492.09 80.28,493.62 80.60,494.71 80.80,495.51 81.00,497.33 81.20,497.76 81.40,499.23 81.60,500.73 81.80,501.39 82.00,502.89 82.20,503.69 82.44,505.45 82.67,506.74 82.91,507.77 83.15,509.24 83.39,509.93 83.62,511.48 83.86,512.58 84.10,513.77 84.48,514.82 84.86,516.33 85.24,517.58 85.62,518.32 86.00,519.65 86.97,520.04 87.93,521.55 88.90,522.43 90.45,523.24 92.00,523.30" fill="none" stroke="#222" stroke-width="0.8" stroke-opacity="0.8" stroke-linejoin="round"/>
<rect x="37.30" y="517.90" width="1.2" height="1.2" fill="#222"/>
<rect x="43.10" y="516.52" width="1.2" height="1.2" fill="#222"/>
<rect x="48.90" y="516.01" width="1.2" height="1.2" fill="#222"/>
<rect x="53.46" y="514.11" width="1.2" height="1.2" fill="#222"/>
<rect x="58.50" y="511.85" width="1.2" height="1.2" fill="#222"/>
<rect x="61.54" y="508.17" width="1.2" height="1.2" fill="#222"/>
<rect x="64.64" y="503.69" width="1.2" height="1.2" fill="#222"/>
<rect x="67.36" y="499.56" width="1.2" height="1.2" fill="#222"/>
<rect x="69.66" y="494.53" width="1.2" height="1.2" fill="#222"/>
<rect x="71.90" y="489.74" width="1.2" height="1.2" fill="#222"/>
<rect x="74.80" y="485.28" width="1.2" height="1.2" fill="#222"/>
<rect x="78.42" y="488.00" width="1.2" height="1.2" fill="#222"/>
<rect x="79.68" y="493.02" width="1.2" height="1.2" fill="#222"/>
<rect x="80.60" y="497.16" width="1.2" height="1.2" fill="#222"/>
<rect x="81.40" y="502.29" width="1.2" height="1.2" fill="#222"/>
<rect x="82.31" y="507.17" width="1.2" height="1.2" fill="#222"/>
<rect x="83.26" y="511.98" width="1.2" height="1.2" fill="#222"/>
<rect x="84.64" y="516.98" width="1.2" height="1.2" fill="#222"/>
<rect x="87.33" y="520.95" width="1.2" height="1.2" fill="#222"/>
<rect x="37.5" y="458.7" width="95.6" height="64.59999999999997" fill="none" stroke="#a4a4a4" stroke-width="1.1"/>
<line x1="37.5" y1="458.2" x2="37.5" y2="523.8" stroke="#7c7c7c" stroke-width="1.1"/>
<text x="35.9" y="462.8" font-size="10.6" font-weight="bold" text-anchor="end" fill="#111" stroke="#111" stroke-width="0.25">150</text>
<text x="35.9" y="495.40000000000003" font-size="10.6" font-weight="bold" text-anchor="end" fill="#111" stroke="#111" stroke-width="0.25">75</text>
<text x="36.1" y="527.5999999999999" font-size="10.6" font-weight="bold" text-anchor="end" fill="#111" stroke="#111" stroke-width="0.25">0</text>
<text x="17.2" y="491.5" font-size="8.7" font-weight="bold" text-anchor="middle" textLength="30.3" lengthAdjust="spacingAndGlyphs" transform="rotate(-90 17.2 491.5)" fill="#111" stroke="#111" stroke-width="0.25">Counts</text>
<text x="38.5" y="535.5999999999999" font-size="10.6" font-weight="bold" text-anchor="middle" fill="#111" stroke="#111" stroke-width="0.25">10</text>
<text x="44.6" y="529.8" font-size="6.0" font-weight="bold" fill="#111">0</text>
<text x="63.4" y="535.5999999999999" font-size="10.6" font-weight="bold" text-anchor="middle" fill="#111" stroke="#111" stroke-width="0.25">10</text>
<text x="69.5" y="529.8" font-size="6.0" font-weight="bold" fill="#111">1</text>
<text x="87.2" y="535.5999999999999" font-size="10.6" font-weight="bold" text-anchor="middle" fill="#111" stroke="#111" stroke-width="0.25">10</text>
<text x="93.3" y="529.8" font-size="6.0" font-weight="bold" fill="#111">2</text>
<text x="111.79999999999998" y="535.5999999999999" font-size="10.6" font-weight="bold" text-anchor="middle" fill="#111" stroke="#111" stroke-width="0.25">10</text>
<text x="117.89999999999998" y="529.8" font-size="6.0" font-weight="bold" fill="#111">3</text>
<text x="134.4" y="535.5999999999999" font-size="10.6" font-weight="bold" text-anchor="middle" fill="#111" stroke="#111" stroke-width="0.25">10</text>
<text x="140.5" y="529.8" font-size="6.0" font-weight="bold" fill="#111">4</text>
<text x="136.4" y="462.2" font-size="6.8" font-weight="bold" textLength="59.9" lengthAdjust="spacingAndGlyphs" transform="rotate(90 136.4 462.2)" fill="#111" stroke="#111" stroke-width="0.3">0.05U/mL Thr.</text>
<path d="M77.3,603.6 L77.3,602.3 L83.1,600.4 L86.4,595.6 L88.9,587 L91.8,574.5 L94.7,562.9 L97.2,555.2 L98.7,553.7 L100.4,557.2 L102.9,566.8 L105.6,578.3 L109.1,587.9 L112.9,595.6 L115.8,600.4 L118.7,602.3 L118.7,603.6 Z" fill="#939393" stroke="#666" stroke-width="0.5"/>
<polyline points="37.90,598.50 39.35,598.46 40.80,597.66 42.25,597.42 43.70,597.35 44.98,596.35 46.27,596.33 47.55,595.65 48.83,595.19 50.12,594.72 51.40,594.94 52.52,593.88 53.63,593.51 54.75,593.15 55.87,593.10 56.98,591.91 58.10,591.75 58.90,590.94 59.70,590.35 60.50,589.39 61.30,588.53 62.10,587.10 62.90,586.32 63.70,585.24 64.50,584.68 65.30,583.71 66.10,581.95 66.90,580.94 67.70,579.96 68.35,578.84 69.00,577.95 69.65,576.93 70.30,575.52 70.95,574.17 71.60,573.43 72.18,572.22 72.76,571.24 73.34,570.43 73.92,569.03 74.50,567.71 75.45,566.56 76.40,565.36 77.35,566.05 78.30,568.06 78.57,569.19 78.84,570.52 79.11,571.70 79.39,572.57 79.66,573.82 79.93,574.80 80.20,576.52 80.45,577.33 80.70,578.66 80.95,580.11 81.20,581.40 81.45,582.88 81.70,583.95 81.95,585.23 82.20,586.69 82.47,587.87 82.74,589.33 83.01,590.26 83.29,592.25 83.56,593.25 83.83,594.06 84.10,595.38 84.67,596.81 85.25,598.18 85.83,599.31 86.40,601.31 87.70,602.59 89.00,603.30" fill="none" stroke="#777" stroke-width="0.8" stroke-opacity="0.8" stroke-linejoin="round"/>
<rect x="37.30" y="597.90" width="1.2" height="1.2" fill="#777"/>
<rect x="43.10" y="596.75" width="1.2" height="1.2" fill="#777"/>
<rect x="48.23" y="594.59" width="1.2" height="1.2" fill="#777"/>
<rect x="53.03" y="592.91" width="1.2" height="1.2" fill="#777"/>
<rect x="57.50" y="591.15" width="1.2" height="1.2" fill="#777"/>
<rect x="60.70" y="587.93" width="1.2" height="1.2" fill="#777"/>
<rect x="63.90" y="584.08" width="1.2" height="1.2" fill="#777"/>
<rect x="67.10" y="579.36" width="1.2" height="1.2" fill="#777"/>
<rect x="69.70" y="574.92" width="1.2" height="1.2" fill="#777"/>
<rect x="72.16" y="570.64" width="1.2" height="1.2" fill="#777"/>
<rect x="74.85" y="565.96" width="1.2" height="1.2" fill="#777"/>
<rect x="77.97" y="568.59" width="1.2" height="1.2" fill="#777"/>
<rect x="79.06" y="573.22" width="1.2" height="1.2" fill="#777"/>
<rect x="80.10" y="578.06" width="1.2" height="1.2" fill="#777"/>
<rect x="81.10" y="583.35" width="1.2" height="1.2" fill="#777"/>
<rect x="82.14" y="588.73" width="1.2" height="1.2" fill="#777"/>
<rect x="83.23" y="593.46" width="1.2" height="1.2" fill="#777"/>
<rect x="85.23" y="598.71" width="1.2" height="1.2" fill="#777"/>
<rect x="37.5" y="538.9" width="95.9" height="64.70000000000005" fill="none" stroke="#a4a4a4" stroke-width="1.1"/>
<line x1="37.5" y1="538.4" x2="37.5" y2="604.1" stroke="#7c7c7c" stroke-width="1.1"/>
<text x="35.4" y="545.4" font-size="10.6" font-weight="bold" text-anchor="end" fill="#111" stroke="#111" stroke-width="0.25">150</text>
<text x="35.4" y="575.9" font-size="10.6" font-weight="bold" text-anchor="end" fill="#111" stroke="#111" stroke-width="0.25">75</text>
<text x="35.6" y="606.6" font-size="10.6" font-weight="bold" text-anchor="end" fill="#111" stroke="#111" stroke-width="0.25">0</text>
<text x="17.2" y="567.55" font-size="8.7" font-weight="bold" text-anchor="middle" textLength="30.3" lengthAdjust="spacingAndGlyphs" transform="rotate(-90 17.2 567.55)" fill="#111" stroke="#111" stroke-width="0.25">Counts</text>
<text x="38.5" y="614.5" font-size="10.6" font-weight="bold" text-anchor="middle" fill="#111" stroke="#111" stroke-width="0.25">10</text>
<text x="44.6" y="608.7" font-size="6.0" font-weight="bold" fill="#111">0</text>
<text x="63.475" y="614.5" font-size="10.6" font-weight="bold" text-anchor="middle" fill="#111" stroke="#111" stroke-width="0.25">10</text>
<text x="69.575" y="608.7" font-size="6.0" font-weight="bold" fill="#111">1</text>
<text x="87.35000000000001" y="614.5" font-size="10.6" font-weight="bold" text-anchor="middle" fill="#111" stroke="#111" stroke-width="0.25">10</text>
<text x="93.45" y="608.7" font-size="6.0" font-weight="bold" fill="#111">2</text>
<text x="112.025" y="614.5" font-size="10.6" font-weight="bold" text-anchor="middle" fill="#111" stroke="#111" stroke-width="0.25">10</text>
<text x="118.125" y="608.7" font-size="6.0" font-weight="bold" fill="#111">3</text>
<text x="134.70000000000002" y="614.5" font-size="10.6" font-weight="bold" text-anchor="middle" fill="#111" stroke="#111" stroke-width="0.25">10</text>
<text x="140.8" y="608.7" font-size="6.0" font-weight="bold" fill="#111">4</text>
<text x="136.3" y="540.8" font-size="6.8" font-weight="bold" textLength="55.3" lengthAdjust="spacingAndGlyphs" transform="rotate(90 136.3 540.8)" fill="#111" stroke="#111" stroke-width="0.3">0.5U/mL Thr.</text>
<path d="M203.1,524.0 L203.1,523.3 L210.8,521.4 L217.5,517.2 L221.3,511.8 L224.2,502.2 L226.2,492.5 L229,485.8 L231.9,482 L234.8,484.8 L236.7,491.6 L238.7,501.2 L241.2,511.8 L243.8,519.5 L247.3,522.9 L247.3,524.0 Z" fill="#939393" stroke="#666" stroke-width="0.5"/>
<polyline points="183.10,517.90 184.40,517.73 185.70,517.61 187.00,517.11 188.30,516.98 189.60,517.06 190.88,516.57 192.17,516.66 193.45,515.65 194.73,515.10 196.02,515.52 197.30,514.73 198.64,513.88 199.98,513.74 201.32,512.77 202.66,512.73 204.00,512.63 204.96,511.67 205.92,510.66 206.88,509.41 207.84,508.64 208.80,507.60 209.58,507.00 210.36,505.65 211.14,504.73 211.92,503.19 212.70,501.95 213.24,501.38 213.79,500.44 214.33,499.22 214.87,498.08 215.41,496.99 215.96,495.82 216.50,494.25 217.22,493.32 217.95,491.97 218.68,490.48 219.40,489.28 220.20,488.50 221.00,487.48 221.57,489.17 222.13,490.71 222.70,491.55 222.98,493.17 223.26,494.39 223.53,495.54 223.81,496.19 224.09,497.24 224.37,498.42 224.64,499.57 224.92,500.76 225.20,502.31 225.52,503.73 225.84,504.84 226.17,505.68 226.49,507.00 226.81,508.30 227.13,508.83 227.46,510.51 227.78,511.90 228.10,512.95 228.58,514.21 229.07,515.25 229.55,516.26 230.03,518.09 230.52,518.97 231.00,520.67 231.93,521.66 232.87,521.97 233.80,522.90" fill="none" stroke="#333" stroke-width="0.8" stroke-opacity="0.8" stroke-linejoin="round"/>
<rect x="182.50" y="517.30" width="1.2" height="1.2" fill="#333"/>
<rect x="187.70" y="516.38" width="1.2" height="1.2" fill="#333"/>
<rect x="192.85" y="515.05" width="1.2" height="1.2" fill="#333"/>
<rect x="198.04" y="513.28" width="1.2" height="1.2" fill="#333"/>
<rect x="203.40" y="512.03" width="1.2" height="1.2" fill="#333"/>
<rect x="207.24" y="508.04" width="1.2" height="1.2" fill="#333"/>
<rect x="210.54" y="504.13" width="1.2" height="1.2" fill="#333"/>
<rect x="213.19" y="499.84" width="1.2" height="1.2" fill="#333"/>
<rect x="215.36" y="495.22" width="1.2" height="1.2" fill="#333"/>
<rect x="218.08" y="489.88" width="1.2" height="1.2" fill="#333"/>
<rect x="220.97" y="488.57" width="1.2" height="1.2" fill="#333"/>
<rect x="222.66" y="493.79" width="1.2" height="1.2" fill="#333"/>
<rect x="223.77" y="497.82" width="1.2" height="1.2" fill="#333"/>
<rect x="224.92" y="503.13" width="1.2" height="1.2" fill="#333"/>
<rect x="226.21" y="507.70" width="1.2" height="1.2" fill="#333"/>
<rect x="227.50" y="512.35" width="1.2" height="1.2" fill="#333"/>
<rect x="229.43" y="517.49" width="1.2" height="1.2" fill="#333"/>
<rect x="232.27" y="521.37" width="1.2" height="1.2" fill="#333"/>
<rect x="181.6" y="459.0" width="93.00000000000003" height="65.0" fill="none" stroke="#a4a4a4" stroke-width="1.1"/>
<line x1="181.6" y1="458.5" x2="181.6" y2="524.5" stroke="#7c7c7c" stroke-width="1.1"/>
<text x="179.7" y="464.5" font-size="10.6" font-weight="bold" text-anchor="end" fill="#111" stroke="#111" stroke-width="0.25">150</text>
<text x="179.7" y="497.3" font-size="10.6" font-weight="bold" text-anchor="end" fill="#111" stroke="#111" stroke-width="0.25">75</text>
<text x="179.89999999999998" y="527.8" font-size="10.6" font-weight="bold" text-anchor="end" fill="#111" stroke="#111" stroke-width="0.25">0</text>
<text x="162.6" y="491.65" font-size="8.7" font-weight="bold" text-anchor="middle" textLength="30.3" lengthAdjust="spacingAndGlyphs" transform="rotate(-90 162.6 491.65)" fill="#111" stroke="#111" stroke-width="0.25">Counts</text>
<text x="182.6" y="535.8" font-size="10.6" font-weight="bold" text-anchor="middle" fill="#111" stroke="#111" stroke-width="0.25">10</text>
<text x="188.7" y="530.0" font-size="6.0" font-weight="bold" fill="#111">0</text>
<text x="206.85" y="535.8" font-size="10.6" font-weight="bold" text-anchor="middle" fill="#111" stroke="#111" stroke-width="0.25">10</text>
<text x="212.95" y="530.0" font-size="6.0" font-weight="bold" fill="#111">1</text>
<text x="230.00000000000003" y="535.8" font-size="10.6" font-weight="bold" text-anchor="middle" fill="#111" stroke="#111" stroke-width="0.25">10</text>
<text x="236.10000000000002" y="530.0" font-size="6.0" font-weight="bold" fill="#111">2</text>
<text x="253.95000000000002" y="535.8" font-size="10.6" font-weight="bold" text-anchor="middle" fill="#111" stroke="#111" stroke-width="0.25">10</text>
<text x="260.05" y="530.0" font-size="6.0" font-weight="bold" fill="#111">3</text>
<text x="275.90000000000003" y="535.8" font-size="10.6" font-weight="bold" text-anchor="middle" fill="#111" stroke="#111" stroke-width="0.25">10</text>
<text x="282.00000000000006" y="530.0" font-size="6.0" font-weight="bold" fill="#111">4</text>
<text x="279.20000000000005" y="461.9" font-size="6.8" font-weight="bold" textLength="59.6" lengthAdjust="spacingAndGlyphs" transform="rotate(90 279.20000000000005 461.9)" fill="#111" stroke="#111" stroke-width="0.3">0.05U/mL Thr.</text>
<path d="M208.8,603.8 L208.8,603.3 L212.7,600.4 L217.5,595.6 L222.3,587.9 L226.2,580.2 L229,574.5 L231.9,568.7 L234.4,563.9 L236.2,562.5 L238.1,564.8 L240,572.5 L241.9,583.1 L244.4,592.7 L247.3,599.5 L251.2,602.9 L251.2,603.8 Z" fill="#939393" stroke="#666" stroke-width="0.5"/>
<polyline points="183.10,598.50 184.40,598.15 185.70,598.38 187.00,597.92 188.30,597.16 189.60,596.86 190.88,596.47 192.17,596.73 193.45,596.23 194.73,595.21 196.02,595.41 197.30,595.13 198.46,594.26 199.62,593.41 200.78,593.00 201.94,592.05 203.10,591.36 204.06,591.26 205.02,590.01 205.98,588.94 206.94,588.35 207.90,586.94 208.66,586.17 209.42,584.97 210.18,583.26 210.94,582.14 211.70,581.01 212.26,579.87 212.81,579.08 213.37,577.68 213.93,576.73 214.49,575.37 215.04,574.97 215.60,573.37 216.57,572.20 217.53,571.04 218.50,570.06 219.45,568.38 220.40,567.58 221.03,568.33 221.67,569.50 222.30,570.62 222.63,571.41 222.96,573.03 223.29,574.04 223.61,575.12 223.94,577.08 224.27,577.76 224.60,579.28 224.88,580.78 225.16,581.91 225.43,582.98 225.71,584.43 225.99,585.74 226.27,587.22 226.54,587.89 226.82,589.58 227.10,590.57 227.51,591.84 227.93,593.53 228.34,594.54 228.76,595.83 229.17,597.25 229.59,598.63 230.00,599.45 230.97,600.73 231.93,601.77 232.90,602.90" fill="none" stroke="#333" stroke-width="0.8" stroke-opacity="0.8" stroke-linejoin="round"/>
<rect x="182.50" y="597.90" width="1.2" height="1.2" fill="#333"/>
<rect x="187.70" y="596.56" width="1.2" height="1.2" fill="#333"/>
<rect x="192.85" y="595.63" width="1.2" height="1.2" fill="#333"/>
<rect x="197.86" y="593.66" width="1.2" height="1.2" fill="#333"/>
<rect x="202.50" y="590.76" width="1.2" height="1.2" fill="#333"/>
<rect x="206.34" y="587.75" width="1.2" height="1.2" fill="#333"/>
<rect x="209.58" y="582.66" width="1.2" height="1.2" fill="#333"/>
<rect x="212.21" y="578.48" width="1.2" height="1.2" fill="#333"/>
<rect x="214.44" y="574.37" width="1.2" height="1.2" fill="#333"/>
<rect x="217.90" y="569.46" width="1.2" height="1.2" fill="#333"/>
<rect x="221.07" y="568.90" width="1.2" height="1.2" fill="#333"/>
<rect x="222.69" y="573.44" width="1.2" height="1.2" fill="#333"/>
<rect x="224.00" y="578.68" width="1.2" height="1.2" fill="#333"/>
<rect x="225.11" y="583.83" width="1.2" height="1.2" fill="#333"/>
<rect x="226.22" y="588.98" width="1.2" height="1.2" fill="#333"/>
<rect x="227.74" y="593.94" width="1.2" height="1.2" fill="#333"/>
<rect x="229.40" y="598.85" width="1.2" height="1.2" fill="#333"/>
<rect x="181.6" y="539.0" width="92.9" height="64.79999999999995" fill="none" stroke="#a4a4a4" stroke-width="1.1"/>
<line x1="181.6" y1="538.5" x2="181.6" y2="604.3" stroke="#7c7c7c" stroke-width="1.1"/>
<text x="179.0" y="547.0999999999999" font-size="10.6" font-weight="bold" text-anchor="end" fill="#111" stroke="#111" stroke-width="0.25">150</text>
<text x="179.0" y="579.6999999999999" font-size="10.6" font-weight="bold" text-anchor="end" fill="#111" stroke="#111" stroke-width="0.25">75</text>
<text x="179.2" y="605.1999999999999" font-size="10.6" font-weight="bold" text-anchor="end" fill="#111" stroke="#111" stroke-width="0.25">0</text>
<text x="161.5" y="570.1" font-size="8.7" font-weight="bold" text-anchor="middle" textLength="30.3" lengthAdjust="spacingAndGlyphs" transform="rotate(-90 161.5 570.1)" fill="#111" stroke="#111" stroke-width="0.25">Counts</text>
<text x="182.6" y="614.4" font-size="10.6" font-weight="bold" text-anchor="middle" fill="#111" stroke="#111" stroke-width="0.25">10</text>
<text x="188.7" y="608.6" font-size="6.0" font-weight="bold" fill="#111">0</text>
<text x="206.825" y="614.4" font-size="10.6" font-weight="bold" text-anchor="middle" fill="#111" stroke="#111" stroke-width="0.25">10</text>
<text x="212.92499999999998" y="608.6" font-size="6.0" font-weight="bold" fill="#111">1</text>
<text x="229.95000000000002" y="614.4" font-size="10.6" font-weight="bold" text-anchor="middle" fill="#111" stroke="#111" stroke-width="0.25">10</text>
<text x="236.05" y="608.6" font-size="6.0" font-weight="bold" fill="#111">2</text>
<text x="253.875" y="614.4" font-size="10.6" font-weight="bold" text-anchor="middle" fill="#111" stroke="#111" stroke-width="0.25">10</text>
<text x="259.975" y="608.6" font-size="6.0" font-weight="bold" fill="#111">3</text>
<text x="275.8" y="614.4" font-size="10.6" font-weight="bold" text-anchor="middle" fill="#111" stroke="#111" stroke-width="0.25">10</text>
<text x="281.90000000000003" y="608.6" font-size="6.0" font-weight="bold" fill="#111">4</text>
<text x="279.2" y="538.4" font-size="6.8" font-weight="bold" textLength="53.6" lengthAdjust="spacingAndGlyphs" transform="rotate(90 279.2 538.4)" fill="#111" stroke="#111" stroke-width="0.3">0.5U/mL Thr.</text>
<text x="81.8" y="452.2" font-size="10.6" font-weight="bold" text-anchor="middle" textLength="17.4" lengthAdjust="spacingAndGlyphs" fill="#111" stroke="#111" stroke-width="0.25">WT</text>
<text x="208" y="451.90000000000003" font-size="10.8" font-weight="bold" font-style="italic" textLength="41" lengthAdjust="spacingAndGlyphs" fill="#111" stroke="#111" stroke-width="0.25">Unc13d</text>
<text x="248.6" y="446.6" font-size="5.8" font-weight="bold" font-style="italic" textLength="10.4" lengthAdjust="spacingAndGlyphs" fill="#555">Jinx</text>
<text x="76.5" y="625.6" font-size="11.3" font-weight="bold" text-anchor="middle" textLength="53.3" lengthAdjust="spacingAndGlyphs" fill="#111" stroke="#111" stroke-width="0.25">P-selectin</text>
<text x="225" y="626.2" font-size="11.3" font-weight="bold" text-anchor="middle" textLength="54.5" lengthAdjust="spacingAndGlyphs" fill="#111" stroke="#111" stroke-width="0.25">P-selectin</text>
<text x="2.6" y="665.1" font-size="25.0" font-weight="bold" fill="#111" stroke="#111" stroke-width="0.25">E</text>
<path d="M64.8,739.4 L64.8,738.7 L70.6,736 L74.5,730.6 L77.3,722 L79.8,709.5 L82.5,698.9 L85,694.1 L86.4,693.7 L88.3,696 L90.8,704.7 L93.3,715.2 L95.6,724.8 L98.5,732.5 L102.3,737.3 L102.3,739.4 Z" fill="#848484" stroke="#666" stroke-width="0.5"/>
<polyline points="37.90,733.50 39.06,732.93 40.22,732.51 41.38,731.72 42.54,731.21 43.70,730.58 44.86,730.62 46.02,730.02 47.18,729.80 48.34,729.48 49.50,728.48 50.70,728.03 51.90,727.65 53.10,726.83 54.30,725.47 54.93,724.34 55.57,723.51 56.20,722.07 56.83,721.10 57.47,719.83 58.10,719.25 58.66,718.26 59.21,717.26 59.77,715.49 60.33,714.89 60.89,713.74 61.44,712.18 62.00,711.74 62.56,710.66 63.12,708.83 63.68,708.33 64.24,706.67 64.80,705.59 65.40,704.99 66.00,703.80 66.60,702.15 67.20,701.34 68.45,702.06 69.70,702.56 70.33,703.73 70.97,705.14 71.60,706.80 71.92,707.45 72.23,709.22 72.55,710.40 72.87,711.30 73.18,712.87 73.50,714.41 73.77,715.54 74.04,716.37 74.31,718.42 74.59,719.47 74.86,720.87 75.13,721.32 75.40,722.69 75.88,723.77 76.37,725.72 76.85,726.54 77.33,727.70 77.82,729.25 78.30,730.97 79.08,731.97 79.86,732.54 80.64,733.52 81.42,735.30 82.20,736.06 83.34,736.64 84.48,736.55 85.62,736.98 86.76,738.01 87.90,738.30" fill="none" stroke="#333" stroke-width="0.8" stroke-opacity="0.8" stroke-linejoin="round"/>
<rect x="37.30" y="732.90" width="1.2" height="1.2" fill="#333"/>
<rect x="41.94" y="730.61" width="1.2" height="1.2" fill="#333"/>
<rect x="46.58" y="729.20" width="1.2" height="1.2" fill="#333"/>
<rect x="51.30" y="727.05" width="1.2" height="1.2" fill="#333"/>
<rect x="54.97" y="722.91" width="1.2" height="1.2" fill="#333"/>
<rect x="57.50" y="718.65" width="1.2" height="1.2" fill="#333"/>
<rect x="59.73" y="714.29" width="1.2" height="1.2" fill="#333"/>
<rect x="61.96" y="710.06" width="1.2" height="1.2" fill="#333"/>
<rect x="64.20" y="704.99" width="1.2" height="1.2" fill="#333"/>
<rect x="66.60" y="700.74" width="1.2" height="1.2" fill="#333"/>
<rect x="70.37" y="704.54" width="1.2" height="1.2" fill="#333"/>
<rect x="71.95" y="709.80" width="1.2" height="1.2" fill="#333"/>
<rect x="73.17" y="714.94" width="1.2" height="1.2" fill="#333"/>
<rect x="74.26" y="720.27" width="1.2" height="1.2" fill="#333"/>
<rect x="75.77" y="725.12" width="1.2" height="1.2" fill="#333"/>
<rect x="77.70" y="730.37" width="1.2" height="1.2" fill="#333"/>
<rect x="80.82" y="734.70" width="1.2" height="1.2" fill="#333"/>
<rect x="85.02" y="736.38" width="1.2" height="1.2" fill="#333"/>
<rect x="37.5" y="673.9" width="94.80000000000001" height="65.5" fill="none" stroke="#a4a4a4" stroke-width="1.1"/>
<line x1="37.5" y1="673.4" x2="37.5" y2="739.9" stroke="#7c7c7c" stroke-width="1.1"/>
<text x="35.9" y="677.8" font-size="10.6" font-weight="bold" text-anchor="end" fill="#111" stroke="#111" stroke-width="0.25">150</text>
<text x="35.9" y="708.05" font-size="10.6" font-weight="bold" text-anchor="end" fill="#111" stroke="#111" stroke-width="0.25">75</text>
<text x="36.1" y="742.5999999999999" font-size="10.6" font-weight="bold" text-anchor="end" fill="#111" stroke="#111" stroke-width="0.25">0</text>
<text x="17.2" y="706.3" font-size="8.7" font-weight="bold" text-anchor="middle" textLength="30.3" lengthAdjust="spacingAndGlyphs" transform="rotate(-90 17.2 706.3)" fill="#111" stroke="#111" stroke-width="0.25">Counts</text>
<text x="38.5" y="750.5" font-size="10.6" font-weight="bold" text-anchor="middle" fill="#111" stroke="#111" stroke-width="0.25">10</text>
<text x="44.6" y="744.7" font-size="6.0" font-weight="bold" fill="#111">0</text>
<text x="63.2" y="750.5" font-size="10.6" font-weight="bold" text-anchor="middle" fill="#111" stroke="#111" stroke-width="0.25">10</text>
<text x="69.3" y="744.7" font-size="6.0" font-weight="bold" fill="#111">1</text>
<text x="86.80000000000001" y="750.5" font-size="10.6" font-weight="bold" text-anchor="middle" fill="#111" stroke="#111" stroke-width="0.25">10</text>
<text x="92.9" y="744.7" font-size="6.0" font-weight="bold" fill="#111">2</text>
<text x="111.2" y="750.5" font-size="10.6" font-weight="bold" text-anchor="middle" fill="#111" stroke="#111" stroke-width="0.25">10</text>
<text x="117.3" y="744.7" font-size="6.0" font-weight="bold" fill="#111">3</text>
<text x="133.60000000000002" y="750.5" font-size="10.6" font-weight="bold" text-anchor="middle" fill="#111" stroke="#111" stroke-width="0.25">10</text>
<text x="139.70000000000002" y="744.7" font-size="6.0" font-weight="bold" fill="#111">4</text>
<text x="135.70000000000002" y="676.8" font-size="6.8" font-weight="bold" textLength="59.6" lengthAdjust="spacingAndGlyphs" transform="rotate(90 135.70000000000002 676.8)" fill="#111" stroke="#111" stroke-width="0.3">0.05U/mL Thr.</text>
<path d="M70.6,818.8 L70.6,819.3 L75.4,815.5 L78.7,809.7 L81.2,802 L83.7,792.4 L86.4,780.8 L89.5,773.2 L91.8,770.8 L93.7,773.2 L96,782.8 L98.5,796.2 L101.4,808.7 L104.3,815.5 L108.1,818.9 L108.1,818.8 Z" fill="#848484" stroke="#666" stroke-width="0.5"/>
<polyline points="37.90,813.20 39.06,812.63 40.22,811.82 41.38,812.09 42.54,811.32 43.70,810.97 44.86,809.83 46.02,810.02 47.18,808.81 48.34,809.03 49.50,808.16 50.46,807.28 51.42,806.69 52.38,806.24 53.34,804.87 54.30,803.97 55.06,803.10 55.82,801.62 56.58,800.29 57.34,799.12 58.10,797.80 58.66,796.83 59.21,795.83 59.77,794.72 60.33,794.03 60.89,792.51 61.44,791.60 62.00,790.21 62.56,789.20 63.12,787.75 63.68,786.80 64.24,785.42 64.80,784.91 65.60,783.45 66.40,781.82 67.20,780.78 68.45,782.19 69.70,782.45 70.20,784.23 70.70,785.02 71.20,786.22 71.70,787.66 72.20,788.40 72.47,789.75 72.74,791.15 73.01,792.66 73.29,793.33 73.56,795.01 73.83,796.14 74.10,797.32 74.43,798.34 74.76,799.52 75.09,800.48 75.41,801.78 75.74,802.96 76.07,804.79 76.40,805.58 76.88,806.78 77.37,807.99 77.85,809.96 78.33,811.27 78.82,812.37 79.30,813.30 80.25,814.34 81.20,815.46 82.15,816.69 83.10,817.80" fill="none" stroke="#555" stroke-width="0.8" stroke-opacity="0.8" stroke-linejoin="round"/>
<rect x="37.30" y="812.60" width="1.2" height="1.2" fill="#555"/>
<rect x="41.94" y="810.72" width="1.2" height="1.2" fill="#555"/>
<rect x="46.58" y="808.21" width="1.2" height="1.2" fill="#555"/>
<rect x="50.82" y="806.09" width="1.2" height="1.2" fill="#555"/>
<rect x="54.46" y="802.50" width="1.2" height="1.2" fill="#555"/>
<rect x="57.50" y="797.20" width="1.2" height="1.2" fill="#555"/>
<rect x="59.73" y="793.43" width="1.2" height="1.2" fill="#555"/>
<rect x="61.96" y="788.60" width="1.2" height="1.2" fill="#555"/>
<rect x="64.20" y="784.31" width="1.2" height="1.2" fill="#555"/>
<rect x="67.85" y="781.59" width="1.2" height="1.2" fill="#555"/>
<rect x="70.60" y="785.62" width="1.2" height="1.2" fill="#555"/>
<rect x="72.14" y="790.55" width="1.2" height="1.2" fill="#555"/>
<rect x="73.23" y="795.54" width="1.2" height="1.2" fill="#555"/>
<rect x="74.49" y="799.88" width="1.2" height="1.2" fill="#555"/>
<rect x="75.80" y="804.98" width="1.2" height="1.2" fill="#555"/>
<rect x="77.73" y="810.67" width="1.2" height="1.2" fill="#555"/>
<rect x="80.60" y="814.86" width="1.2" height="1.2" fill="#555"/>
<rect x="37.5" y="754.0" width="95.30000000000001" height="64.79999999999995" fill="none" stroke="#a4a4a4" stroke-width="1.1"/>
<line x1="37.5" y1="753.5" x2="37.5" y2="819.3" stroke="#7c7c7c" stroke-width="1.1"/>
<text x="35.4" y="760.0" font-size="10.6" font-weight="bold" text-anchor="end" fill="#111" stroke="#111" stroke-width="0.25">150</text>
<text x="35.4" y="790.4" font-size="10.6" font-weight="bold" text-anchor="end" fill="#111" stroke="#111" stroke-width="0.25">75</text>
<text x="35.6" y="825.0999999999999" font-size="10.6" font-weight="bold" text-anchor="end" fill="#111" stroke="#111" stroke-width="0.25">0</text>
<text x="17.2" y="782.4" font-size="8.7" font-weight="bold" text-anchor="middle" textLength="30.3" lengthAdjust="spacingAndGlyphs" transform="rotate(-90 17.2 782.4)" fill="#111" stroke="#111" stroke-width="0.25">Counts</text>
<text x="38.5" y="830.4" font-size="10.6" font-weight="bold" text-anchor="middle" fill="#111" stroke="#111" stroke-width="0.25">10</text>
<text x="44.6" y="824.6" font-size="6.0" font-weight="bold" fill="#111">0</text>
<text x="63.325" y="830.4" font-size="10.6" font-weight="bold" text-anchor="middle" fill="#111" stroke="#111" stroke-width="0.25">10</text>
<text x="69.425" y="824.6" font-size="6.0" font-weight="bold" fill="#111">1</text>
<text x="87.05000000000001" y="830.4" font-size="10.6" font-weight="bold" text-anchor="middle" fill="#111" stroke="#111" stroke-width="0.25">10</text>
<text x="93.15" y="824.6" font-size="6.0" font-weight="bold" fill="#111">2</text>
<text x="111.575" y="830.4" font-size="10.6" font-weight="bold" text-anchor="middle" fill="#111" stroke="#111" stroke-width="0.25">10</text>
<text x="117.675" y="824.6" font-size="6.0" font-weight="bold" fill="#111">3</text>
<text x="134.10000000000002" y="830.4" font-size="10.6" font-weight="bold" text-anchor="middle" fill="#111" stroke="#111" stroke-width="0.25">10</text>
<text x="140.20000000000002" y="824.6" font-size="6.0" font-weight="bold" fill="#111">4</text>
<text x="136.10000000000002" y="759.7" font-size="6.8" font-weight="bold" textLength="54.0" lengthAdjust="spacingAndGlyphs" transform="rotate(90 136.10000000000002 759.7)" fill="#111" stroke="#111" stroke-width="0.3">0.5U/mL Thr.</text>
<path d="M181.6,740.1 L181.6,736.8 L183.1,736.4 L189.6,734.5 L197.3,731 L203.1,726.8 L207.9,721 L211.7,715.2 L215.6,709.5 L218.5,705.2 L220.4,704.7 L222.3,706.6 L224.2,715.2 L226.5,726.8 L229,734.5 L232.9,737.3 L241.5,738.3 L241.5,740.1 Z" fill="#848484" stroke="#666" stroke-width="0.5"/>
<polyline points="183.10,732.50 184.25,731.82 185.40,731.70 186.55,731.16 187.70,731.42 188.86,730.97 190.02,730.12 191.18,729.39 192.34,729.58 193.50,728.53 194.64,727.99 195.78,727.09 196.92,726.85 198.06,726.36 199.20,725.80 200.16,724.65 201.12,724.04 202.08,722.71 203.04,722.07 204.00,721.03 204.78,720.15 205.56,718.67 206.34,717.49 207.12,716.58 207.90,715.36 208.62,714.38 209.35,713.03 210.08,711.93 210.80,710.54 211.77,709.33 212.73,708.21 213.70,706.50 215.60,705.04 216.23,706.74 216.87,707.08 217.50,708.70 217.82,709.81 218.14,710.44 218.47,712.34 218.79,713.56 219.11,714.50 219.43,715.78 219.76,717.03 220.08,717.60 220.40,719.12 220.76,720.30 221.12,721.80 221.49,722.97 221.85,724.19 222.21,725.18 222.58,726.65 222.94,727.66 223.30,728.87 223.88,729.62 224.46,730.60 225.04,731.85 225.62,733.21 226.20,734.14 227.47,735.74 228.73,736.42 230.00,737.41 231.28,737.58 232.57,737.80 233.85,737.79 235.13,737.52 236.42,738.40 237.70,738.52 238.94,738.31 240.17,738.35 241.41,738.47 242.64,737.95 243.88,738.56 245.11,738.14 246.35,737.98 247.58,738.17 248.82,738.59 250.05,738.13 251.29,738.62 252.53,738.84 253.76,738.42 255.00,738.33 256.23,738.43 257.47,738.62 258.70,738.70 259.94,738.58 261.17,738.61 262.41,738.11 263.65,738.19 264.88,738.29 266.12,738.74 267.35,738.36 268.59,738.60 269.82,738.11 271.06,738.17 272.29,738.36 273.53,738.74 274.76,738.76 276.00,738.60" fill="none" stroke="#333" stroke-width="0.8" stroke-opacity="0.8" stroke-linejoin="round"/>
<rect x="182.50" y="731.90" width="1.2" height="1.2" fill="#333"/>
<rect x="187.10" y="730.82" width="1.2" height="1.2" fill="#333"/>
<rect x="191.74" y="728.98" width="1.2" height="1.2" fill="#333"/>
<rect x="196.32" y="726.25" width="1.2" height="1.2" fill="#333"/>
<rect x="200.52" y="723.44" width="1.2" height="1.2" fill="#333"/>
<rect x="204.18" y="719.55" width="1.2" height="1.2" fill="#333"/>
<rect x="207.30" y="714.76" width="1.2" height="1.2" fill="#333"/>
<rect x="210.20" y="709.94" width="1.2" height="1.2" fill="#333"/>
<rect x="215.00" y="704.44" width="1.2" height="1.2" fill="#333"/>
<rect x="217.22" y="709.21" width="1.2" height="1.2" fill="#333"/>
<rect x="218.51" y="713.90" width="1.2" height="1.2" fill="#333"/>
<rect x="219.80" y="718.52" width="1.2" height="1.2" fill="#333"/>
<rect x="221.25" y="723.59" width="1.2" height="1.2" fill="#333"/>
<rect x="222.70" y="728.27" width="1.2" height="1.2" fill="#333"/>
<rect x="225.02" y="732.61" width="1.2" height="1.2" fill="#333"/>
<rect x="229.40" y="736.81" width="1.2" height="1.2" fill="#333"/>
<rect x="234.53" y="736.92" width="1.2" height="1.2" fill="#333"/>
<rect x="239.57" y="737.75" width="1.2" height="1.2" fill="#333"/>
<rect x="244.51" y="737.54" width="1.2" height="1.2" fill="#333"/>
<rect x="249.45" y="737.53" width="1.2" height="1.2" fill="#333"/>
<rect x="254.40" y="737.73" width="1.2" height="1.2" fill="#333"/>
<rect x="259.34" y="737.98" width="1.2" height="1.2" fill="#333"/>
<rect x="264.28" y="737.69" width="1.2" height="1.2" fill="#333"/>
<rect x="269.22" y="737.51" width="1.2" height="1.2" fill="#333"/>
<rect x="274.16" y="738.16" width="1.2" height="1.2" fill="#333"/>
<rect x="181.6" y="673.9" width="95.29999999999998" height="66.20000000000005" fill="none" stroke="#a4a4a4" stroke-width="1.1"/>
<line x1="181.6" y1="673.4" x2="181.6" y2="740.6" stroke="#7c7c7c" stroke-width="1.1"/>
<text x="179.4" y="679.4999999999999" font-size="10.6" font-weight="bold" text-anchor="end" fill="#111" stroke="#111" stroke-width="0.25">150</text>
<text x="179.4" y="712.0999999999999" font-size="10.6" font-weight="bold" text-anchor="end" fill="#111" stroke="#111" stroke-width="0.25">75</text>
<text x="179.6" y="742.3" font-size="10.6" font-weight="bold" text-anchor="end" fill="#111" stroke="#111" stroke-width="0.25">0</text>
<text x="162.6" y="706.0" font-size="8.7" font-weight="bold" text-anchor="middle" textLength="30.3" lengthAdjust="spacingAndGlyphs" transform="rotate(-90 162.6 706.0)" fill="#111" stroke="#111" stroke-width="0.25">Counts</text>
<text x="182.6" y="750.7" font-size="10.6" font-weight="bold" text-anchor="middle" fill="#111" stroke="#111" stroke-width="0.25">10</text>
<text x="188.7" y="744.9000000000001" font-size="6.0" font-weight="bold" fill="#111">0</text>
<text x="207.42499999999998" y="750.7" font-size="10.6" font-weight="bold" text-anchor="middle" fill="#111" stroke="#111" stroke-width="0.25">10</text>
<text x="213.52499999999998" y="744.9000000000001" font-size="6.0" font-weight="bold" fill="#111">1</text>
<text x="231.15" y="750.7" font-size="10.6" font-weight="bold" text-anchor="middle" fill="#111" stroke="#111" stroke-width="0.25">10</text>
<text x="237.25" y="744.9000000000001" font-size="6.0" font-weight="bold" fill="#111">2</text>
<text x="255.67499999999998" y="750.7" font-size="10.6" font-weight="bold" text-anchor="middle" fill="#111" stroke="#111" stroke-width="0.25">10</text>
<text x="261.775" y="744.9000000000001" font-size="6.0" font-weight="bold" fill="#111">3</text>
<text x="278.2" y="750.7" font-size="10.6" font-weight="bold" text-anchor="middle" fill="#111" stroke="#111" stroke-width="0.25">10</text>
<text x="284.3" y="744.9000000000001" font-size="6.0" font-weight="bold" fill="#111">4</text>
<text x="282.29999999999995" y="676.3" font-size="6.8" font-weight="bold" textLength="59.8" lengthAdjust="spacingAndGlyphs" transform="rotate(90 282.29999999999995 676.3)" fill="#111" stroke="#111" stroke-width="0.3">0.05U/mL Thr.</text>
<path d="M181.6,818.6 L181.6,813.8 L183.1,813.5 L189.6,812.6 L197.3,808.7 L203.1,803.9 L208.8,796.2 L212.7,790.5 L215.6,786.2 L218.5,783.7 L220.4,785.1 L222.7,792.4 L225.2,803 L227.7,811.6 L231,816.4 L237.7,818.3 L237.7,818.6 Z" fill="#848484" stroke="#666" stroke-width="0.5"/>
<polyline points="183.10,810.70 184.40,810.46 185.70,809.71 187.00,809.51 188.30,809.07 189.60,808.67 190.70,807.81 191.80,807.97 192.90,806.80 194.00,806.96 195.10,806.38 196.20,805.01 197.30,804.86 198.27,804.39 199.23,803.72 200.20,802.45 201.17,801.49 202.13,800.64 203.10,800.50 203.90,798.71 204.70,797.91 205.50,796.38 206.30,795.59 207.10,794.84 207.90,792.97 208.66,792.45 209.42,791.03 210.18,790.23 210.94,788.92 211.70,787.36 212.67,786.99 213.63,785.65 214.60,784.27 215.75,785.00 216.90,786.19 217.40,787.40 217.90,788.50 218.40,789.60 218.90,791.02 219.40,792.23 219.72,793.88 220.04,794.31 220.37,796.16 220.69,797.42 221.01,797.95 221.33,799.85 221.66,800.84 221.98,802.18 222.30,802.81 222.71,804.11 223.13,805.36 223.54,807.13 223.96,807.99 224.37,809.02 224.79,810.31 225.20,811.40 225.96,812.15 226.72,813.16 227.48,814.78 228.24,815.25 229.00,816.79 230.36,816.55 231.72,816.95 233.08,817.55 234.44,817.64 235.80,818.19 237.02,818.72 238.24,818.66 239.45,818.61 240.67,818.45 241.89,818.72 243.11,818.75 244.33,818.41 245.55,818.57 246.76,817.98 247.98,818.60 249.20,818.36 250.42,818.64 251.64,818.55 252.85,818.23 254.07,818.03 255.29,818.83 256.51,818.12 257.73,818.44 258.95,818.33 260.16,818.30 261.38,818.71 262.60,818.93 263.82,818.29 265.04,818.66 266.25,818.35 267.47,818.59 268.69,818.45 269.91,818.26 271.13,818.26 272.35,818.31 273.56,818.95 274.78,818.59 276.00,818.60" fill="none" stroke="#333" stroke-width="0.8" stroke-opacity="0.8" stroke-linejoin="round"/>
<rect x="182.50" y="810.10" width="1.2" height="1.2" fill="#333"/>
<rect x="187.70" y="808.47" width="1.2" height="1.2" fill="#333"/>
<rect x="192.30" y="806.20" width="1.2" height="1.2" fill="#333"/>
<rect x="196.70" y="804.26" width="1.2" height="1.2" fill="#333"/>
<rect x="200.57" y="800.89" width="1.2" height="1.2" fill="#333"/>
<rect x="204.10" y="797.31" width="1.2" height="1.2" fill="#333"/>
<rect x="207.30" y="792.37" width="1.2" height="1.2" fill="#333"/>
<rect x="210.34" y="788.32" width="1.2" height="1.2" fill="#333"/>
<rect x="214.00" y="783.67" width="1.2" height="1.2" fill="#333"/>
<rect x="217.30" y="787.90" width="1.2" height="1.2" fill="#333"/>
<rect x="219.12" y="793.28" width="1.2" height="1.2" fill="#333"/>
<rect x="220.41" y="797.35" width="1.2" height="1.2" fill="#333"/>
<rect x="221.70" y="802.21" width="1.2" height="1.2" fill="#333"/>
<rect x="223.36" y="807.39" width="1.2" height="1.2" fill="#333"/>
<rect x="225.36" y="811.55" width="1.2" height="1.2" fill="#333"/>
<rect x="228.40" y="816.19" width="1.2" height="1.2" fill="#333"/>
<rect x="181.6" y="754.3" width="95.20000000000002" height="64.30000000000007" fill="none" stroke="#a4a4a4" stroke-width="1.1"/>
<line x1="181.6" y1="753.8" x2="181.6" y2="819.1" stroke="#7c7c7c" stroke-width="1.1"/>
<text x="178.5" y="760.1999999999999" font-size="10.6" font-weight="bold" text-anchor="end" fill="#111" stroke="#111" stroke-width="0.25">150</text>
<text x="178.5" y="790.4" font-size="10.6" font-weight="bold" text-anchor="end" fill="#111" stroke="#111" stroke-width="0.25">75</text>
<text x="178.7" y="825.0" font-size="10.6" font-weight="bold" text-anchor="end" fill="#111" stroke="#111" stroke-width="0.25">0</text>
<text x="161.5" y="784.5500000000001" font-size="8.7" font-weight="bold" text-anchor="middle" textLength="30.3" lengthAdjust="spacingAndGlyphs" transform="rotate(-90 161.5 784.5500000000001)" fill="#111" stroke="#111" stroke-width="0.25">Counts</text>
<text x="182.6" y="830.9" font-size="10.6" font-weight="bold" text-anchor="middle" fill="#111" stroke="#111" stroke-width="0.25">10</text>
<text x="188.7" y="825.1" font-size="6.0" font-weight="bold" fill="#111">0</text>
<text x="207.4" y="830.9" font-size="10.6" font-weight="bold" text-anchor="middle" fill="#111" stroke="#111" stroke-width="0.25">10</text>
<text x="213.5" y="825.1" font-size="6.0" font-weight="bold" fill="#111">1</text>
<text x="231.1" y="830.9" font-size="10.6" font-weight="bold" text-anchor="middle" fill="#111" stroke="#111" stroke-width="0.25">10</text>
<text x="237.2" y="825.1" font-size="6.0" font-weight="bold" fill="#111">2</text>
<text x="255.6" y="830.9" font-size="10.6" font-weight="bold" text-anchor="middle" fill="#111" stroke="#111" stroke-width="0.25">10</text>
<text x="261.7" y="825.1" font-size="6.0" font-weight="bold" fill="#111">3</text>
<text x="278.1" y="830.9" font-size="10.6" font-weight="bold" text-anchor="middle" fill="#111" stroke="#111" stroke-width="0.25">10</text>
<text x="284.20000000000005" y="825.1" font-size="6.0" font-weight="bold" fill="#111">4</text>
<text x="281.1" y="760.5999999999999" font-size="6.8" font-weight="bold" textLength="54.0" lengthAdjust="spacingAndGlyphs" transform="rotate(90 281.1 760.5999999999999)" fill="#111" stroke="#111" stroke-width="0.3">0.5U/mL Thr.</text>
<text x="82.1" y="668.4" font-size="10.6" font-weight="bold" text-anchor="middle" textLength="17.4" lengthAdjust="spacingAndGlyphs" fill="#111" stroke="#111" stroke-width="0.25">WT</text>
<text x="206.2" y="667.6999999999999" font-size="10.8" font-weight="bold" font-style="italic" textLength="41" lengthAdjust="spacingAndGlyphs" fill="#111" stroke="#111" stroke-width="0.25">Unc13d</text>
<text x="246.79999999999998" y="662.4" font-size="5.8" font-weight="bold" font-style="italic" textLength="10.4" lengthAdjust="spacingAndGlyphs" fill="#555">Jinx</text>
<text x="85.2" y="843.0" font-size="11.2" font-weight="bold" text-anchor="middle" textLength="91.2" lengthAdjust="spacingAndGlyphs" fill="#111" stroke="#111" stroke-width="0.25">CD107a(LAMP-1)</text>
<text x="234.2" y="843.0" font-size="11.2" font-weight="bold" text-anchor="middle" textLength="91.2" lengthAdjust="spacingAndGlyphs" fill="#111" stroke="#111" stroke-width="0.25">CD107a(LAMP-1)</text>
<text x="322.9" y="452.3" font-size="25.8" font-weight="bold" fill="#111" stroke="#111" stroke-width="0.25">D</text>
<rect x="372.4" y="482.5" width="144.60000000000002" height="100.89999999999998" fill="none" stroke="#9c9c9c" stroke-width="1.1"/>
<text x="370.09999999999997" y="587.3" font-size="11.2" font-weight="bold" text-anchor="end" fill="#111" stroke="#111" stroke-width="0.25">0</text>
<text x="370.09999999999997" y="568.2" font-size="11.2" font-weight="bold" text-anchor="end" fill="#111" stroke="#111" stroke-width="0.25">100</text>
<text x="370.09999999999997" y="547.5" font-size="11.2" font-weight="bold" text-anchor="end" fill="#111" stroke="#111" stroke-width="0.25">200</text>
<text x="370.09999999999997" y="527.1" font-size="11.2" font-weight="bold" text-anchor="end" fill="#111" stroke="#111" stroke-width="0.25">300</text>
<text x="370.09999999999997" y="506.8" font-size="11.2" font-weight="bold" text-anchor="end" fill="#111" stroke="#111" stroke-width="0.25">400</text>
<rect x="379.1" y="580.1" width="15.3" height="3.3" fill="#0c0c0c"/>
<rect x="398.8" y="579.6" width="15.3" height="3.8" fill="#c2c2c2" stroke="#333" stroke-width="1.2"/>
<rect x="427.3" y="510.4" width="15.8" height="73.0" fill="#0c0c0c"/>
<line x1="435.20000000000005" y1="510.4" x2="435.20000000000005" y2="500.2" stroke="#111" stroke-width="1.1"/>
<line x1="433.20000000000005" y1="500.2" x2="437.20000000000005" y2="500.2" stroke="#111" stroke-width="1.1"/>
<rect x="446.8" y="561.5" width="15.4" height="21.9" fill="#c2c2c2" stroke="#333" stroke-width="1.2"/>
<rect x="475.2" y="497.9" width="16.0" height="85.5" fill="#0c0c0c"/>
<line x1="483.2" y1="497.9" x2="483.2" y2="489.2" stroke="#111" stroke-width="1.1"/>
<line x1="481.2" y1="489.2" x2="485.2" y2="489.2" stroke="#111" stroke-width="1.1"/>
<rect x="494.9" y="555.2" width="15.4" height="28.2" fill="#c2c2c2" stroke="#333" stroke-width="1.2"/>
<text x="397" y="599.6" font-size="11.2" font-weight="bold" text-anchor="middle" fill="#111" stroke="#111" stroke-width="0.25">0</text>
<text x="445.6" y="599.6" font-size="11.2" font-weight="bold" text-anchor="middle" fill="#111" stroke="#111" stroke-width="0.25">0.05</text>
<text x="492.1" y="599.6" font-size="11.2" font-weight="bold" text-anchor="middle" fill="#111" stroke="#111" stroke-width="0.25">0.5</text>
<text x="321.2" y="600.1" font-size="11.2" font-weight="bold" textLength="56.2" lengthAdjust="spacingAndGlyphs" fill="#111" stroke="#111" stroke-width="0.25">Thr.(U/mL)</text>
<text x="346.9" y="534.6" font-size="11" font-weight="bold" text-anchor="middle" textLength="75" lengthAdjust="spacingAndGlyphs" transform="rotate(-90 346.9 534.6)" fill="#111" stroke="#111" stroke-width="0.25">P-selectin MFI</text>
<rect x="374.4" y="485.2" width="10" height="5.6" fill="#0c0c0c"/>
<text x="385.9" y="491.7" font-size="10.6" font-weight="bold" textLength="15.3" lengthAdjust="spacingAndGlyphs" fill="#111" stroke="#111" stroke-width="0.25">WT</text>
<rect x="374.4" y="493.4" width="10" height="5.4" fill="#9a9a9a"/>
<text x="385.9" y="499.8" font-size="11.4" font-weight="normal" font-style="italic" textLength="36.5" lengthAdjust="spacingAndGlyphs" fill="#7a7a7a" stroke="#7a7a7a" stroke-width="0.45">Unc13d</text>
<text x="423.79999999999995" y="494.59999999999997" font-size="5.0" font-weight="bold" font-style="italic" textLength="8.3" lengthAdjust="spacingAndGlyphs" fill="#999">Jinx</text>
<text x="323.4" y="670.9" font-size="25.3" font-weight="bold" fill="#111" stroke="#111" stroke-width="0.25">F</text>
<rect x="368.5" y="698.2" width="144.39999999999998" height="101.09999999999991" fill="none" stroke="#9c9c9c" stroke-width="1.1"/>
<text x="366.2" y="803.8" font-size="11.2" font-weight="bold" text-anchor="end" fill="#111" stroke="#111" stroke-width="0.25">0</text>
<text x="366.2" y="783.6" font-size="11.2" font-weight="bold" text-anchor="end" fill="#111" stroke="#111" stroke-width="0.25">50</text>
<text x="366.2" y="763.2" font-size="11.2" font-weight="bold" text-anchor="end" fill="#111" stroke="#111" stroke-width="0.25">100</text>
<text x="366.2" y="743.2" font-size="11.2" font-weight="bold" text-anchor="end" fill="#111" stroke="#111" stroke-width="0.25">150</text>
<text x="366.2" y="723.3" font-size="11.2" font-weight="bold" text-anchor="end" fill="#111" stroke="#111" stroke-width="0.25">200</text>
<rect x="375.0" y="795.2" width="15.2" height="4.1" fill="#0c0c0c"/>
<rect x="394.5" y="793.5" width="14.8" height="5.8" fill="#c2c2c2" stroke="#333" stroke-width="1.2"/>
<rect x="422.9" y="756.3" width="15.8" height="43.0" fill="#0c0c0c"/>
<line x1="430.79999999999995" y1="756.3" x2="430.79999999999995" y2="751.9" stroke="#111" stroke-width="1.1"/>
<line x1="428.79999999999995" y1="751.9" x2="432.79999999999995" y2="751.9" stroke="#111" stroke-width="1.1"/>
<rect x="442.6" y="790.0" width="14.8" height="9.3" fill="#c2c2c2" stroke="#333" stroke-width="1.2"/>
<rect x="471" y="727.1" width="15.9" height="72.2" fill="#0c0c0c"/>
<line x1="478.95" y1="727.1" x2="478.95" y2="719.4" stroke="#111" stroke-width="1.1"/>
<line x1="476.95" y1="719.4" x2="480.95" y2="719.4" stroke="#111" stroke-width="1.1"/>
<rect x="490.7" y="789.4" width="15.0" height="9.9" fill="#c2c2c2" stroke="#333" stroke-width="1.2"/>
<text x="393" y="818.2" font-size="11.2" font-weight="bold" text-anchor="middle" fill="#111" stroke="#111" stroke-width="0.25">0</text>
<text x="441.2" y="818.2" font-size="11.2" font-weight="bold" text-anchor="middle" fill="#111" stroke="#111" stroke-width="0.25">0.05</text>
<text x="488.6" y="818.2" font-size="11.2" font-weight="bold" text-anchor="middle" fill="#111" stroke="#111" stroke-width="0.25">0.5</text>
<text x="317.4" y="818.7" font-size="11.2" font-weight="bold" textLength="56.2" lengthAdjust="spacingAndGlyphs" fill="#111" stroke="#111" stroke-width="0.25">Thr.(U/mL)</text>
<text x="342.6" y="752.6" font-size="10" font-weight="bold" text-anchor="middle" textLength="101.5" lengthAdjust="spacingAndGlyphs" transform="rotate(-90 342.6 752.6)" fill="#111" stroke="#111" stroke-width="0.25">CD107a(LAMP-1) MFI</text>
<rect x="374.3" y="702.5" width="10" height="5.6" fill="#0c0c0c"/>
<text x="385.8" y="709.0" font-size="10.6" font-weight="bold" textLength="15.3" lengthAdjust="spacingAndGlyphs" fill="#111" stroke="#111" stroke-width="0.25">WT</text>
<rect x="374.3" y="710.7" width="10" height="5.4" fill="#9a9a9a"/>
<text x="385.8" y="717.1" font-size="11.4" font-weight="normal" font-style="italic" textLength="36.5" lengthAdjust="spacingAndGlyphs" fill="#7a7a7a" stroke="#7a7a7a" stroke-width="0.45">Unc13d</text>
<text x="423.7" y="711.9" font-size="5.0" font-weight="bold" font-style="italic" textLength="8.3" lengthAdjust="spacingAndGlyphs" fill="#999">Jinx</text>
</svg></body></html>
